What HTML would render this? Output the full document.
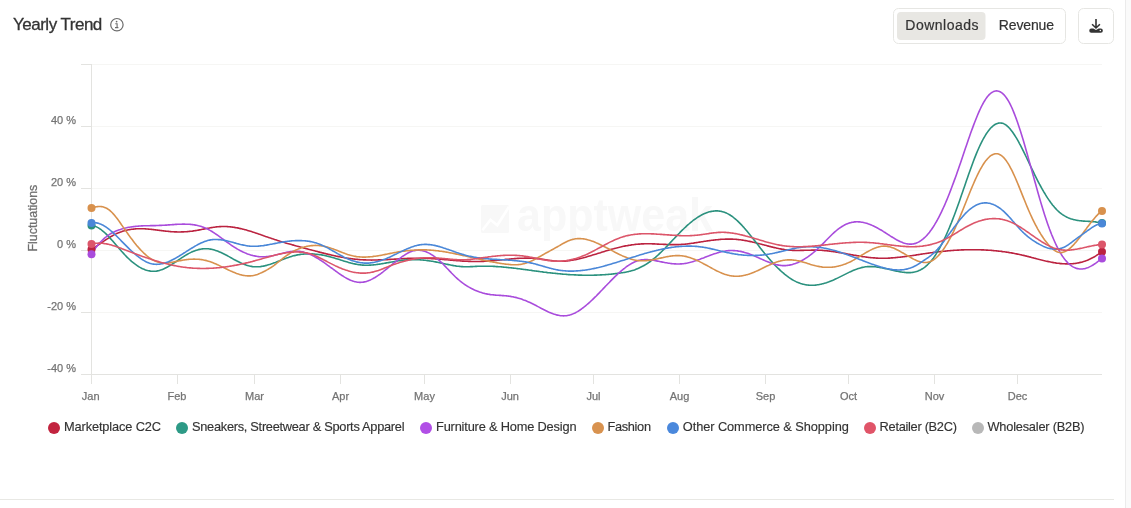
<!DOCTYPE html>
<html><head><meta charset="utf-8">
<style>
html,body{margin:0;padding:0;background:#fff;width:1131px;height:508px;overflow:hidden}
svg{position:absolute;left:0;top:0;display:block;will-change:transform}
text{font-family:"Liberation Sans",sans-serif}
</style></head><body>
<svg width="1131" height="508" viewBox="0 0 1131 508">
<!-- right strip -->
<rect x="1125" y="0" width="6" height="508" fill="#fafafa"/>
<rect x="1125" y="0" width="1" height="508" fill="#ebebeb"/>
<!-- bottom border -->
<rect x="0" y="499" width="1114" height="1" fill="#e8e8e4"/>
<!-- title -->
<text x="13" y="29.8" font-size="17" fill="#333" stroke="#333" stroke-width="0.3" letter-spacing="-0.5">Yearly Trend</text>
<circle cx="116.9" cy="24.7" r="6.2" fill="none" stroke="#6b6b6b" stroke-width="1.2"/>
<circle cx="116.6" cy="21.6" r="0.85" fill="#6b6b6b"/>
<path d="M115.3,23.8 H117.1 V27.5 M115,27.6 H118.4" fill="none" stroke="#6b6b6b" stroke-width="1.1"/>
<!-- toggle -->
<rect x="893.5" y="8.5" width="172" height="35" rx="5" fill="#fff" stroke="#e6e6e3"/>
<rect x="897" y="12" width="88.5" height="28" rx="4" fill="#e8e7e3"/>
<text x="905.3" y="29.7" font-size="14" fill="#333" stroke="#333" stroke-width="0.2" letter-spacing="0.5">Downloads</text>
<text x="998.8" y="29.7" font-size="14" fill="#333" stroke="#333" stroke-width="0.2" letter-spacing="-0.15">Revenue</text>
<!-- download btn -->
<rect x="1078.5" y="8.5" width="35" height="35" rx="5" fill="#fff" stroke="#e6e6e3"/>
<path d="M1096,19 V27.4 M1092.1,24.2 L1096,28 L1099.9,24.2" fill="none" stroke="#333" stroke-width="1.6"/>
<path d="M1091.3,28.6 H1093.3 L1096,30.1 L1098.7,28.6 H1100.8 A2.05,2.05 0 0 1 1100.8,32.7 H1091.3 A2.05,2.05 0 0 1 1091.3,28.6 Z" fill="#333"/>
<circle cx="1100.3" cy="30.6" r="0.75" fill="#fff"/>
<!-- grid -->
<g fill="none" stroke="#f6f6f4" stroke-width="1">
<path d="M91,64.5 H1102 M91,126.5 H1102 M91,188.5 H1102 M91,250.5 H1102 M91,312.5 H1102"/>
</g>
<g fill="none" stroke="#e3e3e0" stroke-width="1">
<path d="M81,64.5 H91 M81,126.5 H91 M81,188.5 H91 M81,250.5 H91 M81,312.5 H91 M81,374.5 H1102"/>
<path d="M91.5,64 V384"/>
<path d="M177.5,374 V384 M254.5,374 V384 M340.5,374 V384 M424.5,374 V384 M510.5,374 V384 M593.5,374 V384 M679.5,374 V384 M765.5,374 V384 M848.5,374 V384 M934.5,374 V384 M1017.5,374 V384"/>
</g>
<!-- watermark -->
<g fill="#f8f8f8">
<rect x="481" y="205" width="28" height="28" rx="1.5"/>
<text x="517" y="231" font-family="Liberation Serif" font-size="47" font-weight="bold" textLength="196" lengthAdjust="spacingAndGlyphs">apptweak</text>
</g>
<path d="M482.4,230.3 L490.5,219.8 L497.3,225.3 L509,206.8" fill="none" stroke="#fff" stroke-width="2.6"/>
<!-- y labels -->
<g font-size="11" fill="#747474" stroke="#747474" stroke-width="0.25" text-anchor="end">
<text x="76" y="123.6">40 %</text>
<text x="76" y="185.6">20 %</text>
<text x="76" y="247.6">0 %</text>
<text x="76" y="309.6">-20 %</text>
<text x="76" y="371.6">-40 %</text>
</g>
<text transform="translate(37.4,218.1) rotate(-90)" font-size="12.4" fill="#707070" stroke="#707070" stroke-width="0.3" text-anchor="middle">Fluctuations</text>
<!-- x labels -->
<g font-size="11" fill="#747474" stroke="#747474" stroke-width="0.25" text-anchor="middle">
<text x="90.7" y="399.8">Jan</text>
<text x="177" y="399.8">Feb</text>
<text x="254.5" y="399.8">Mar</text>
<text x="340.5" y="399.8">Apr</text>
<text x="424.5" y="399.8">May</text>
<text x="510" y="399.8">Jun</text>
<text x="593.5" y="399.8">Jul</text>
<text x="679.5" y="399.8">Aug</text>
<text x="765.5" y="399.8">Sep</text>
<text x="848.5" y="399.8">Oct</text>
<text x="934.5" y="399.8">Nov</text>
<text x="1017.5" y="399.8">Dec</text>
</g>
<!-- series -->
<g fill="none" stroke-width="1.6" stroke-linejoin="round" stroke-linecap="round">
<path d="M91.5,249.5 L92.5,248.9 L93.5,248.2 L94.5,247.6 L95.5,246.9 L96.5,246.2 L97.5,245.5 L98.5,244.9 L99.5,244.2 L100.5,243.5 L101.5,242.8 L102.5,242.1 L103.5,241.4 L104.5,240.7 L105.5,240.0 L106.5,239.4 L107.5,238.7 L108.5,238.1 L109.5,237.5 L110.5,236.8 L111.5,236.3 L112.5,235.7 L113.5,235.1 L114.5,234.6 L115.5,234.1 L116.5,233.6 L117.5,233.2 L118.5,232.8 L119.5,232.4 L120.5,232.0 L121.5,231.7 L122.5,231.3 L123.5,231.0 L124.5,230.7 L125.5,230.5 L126.5,230.2 L127.5,230.0 L128.5,229.8 L129.5,229.6 L130.5,229.5 L131.5,229.3 L132.5,229.2 L133.5,229.1 L134.5,229.0 L135.5,228.9 L136.5,228.8 L137.5,228.8 L138.5,228.8 L139.5,228.7 L140.5,228.7 L141.5,228.7 L142.5,228.8 L143.5,228.8 L144.5,228.8 L145.5,228.9 L146.5,229.0 L147.5,229.0 L148.5,229.1 L149.5,229.2 L150.5,229.3 L151.5,229.4 L152.5,229.5 L153.5,229.6 L154.5,229.8 L155.5,229.9 L156.5,230.0 L157.5,230.1 L158.5,230.3 L159.5,230.4 L160.5,230.5 L161.5,230.6 L162.5,230.8 L163.5,230.9 L164.5,231.0 L165.5,231.1 L166.5,231.2 L167.5,231.3 L168.5,231.4 L169.5,231.5 L170.5,231.6 L171.5,231.7 L172.5,231.8 L173.5,231.8 L174.5,231.9 L175.5,231.9 L176.5,231.9 L177.5,232.0 L178.5,232.0 L179.5,232.0 L180.5,232.0 L181.5,231.9 L182.5,231.9 L183.5,231.9 L184.5,231.8 L185.5,231.8 L186.5,231.7 L187.5,231.6 L188.5,231.5 L189.5,231.4 L190.5,231.3 L191.5,231.2 L192.5,231.1 L193.5,230.9 L194.5,230.8 L195.5,230.6 L196.5,230.5 L197.5,230.3 L198.5,230.1 L199.5,229.9 L200.5,229.7 L201.5,229.5 L202.5,229.3 L203.5,229.1 L204.5,228.9 L205.5,228.7 L206.5,228.5 L207.5,228.3 L208.5,228.2 L209.5,228.0 L210.5,227.8 L211.5,227.6 L212.5,227.5 L213.5,227.3 L214.5,227.2 L215.5,227.0 L216.5,226.9 L217.5,226.8 L218.5,226.7 L219.5,226.6 L220.5,226.6 L221.5,226.5 L222.5,226.5 L223.5,226.5 L224.5,226.5 L225.5,226.5 L226.5,226.5 L227.5,226.6 L228.5,226.7 L229.5,226.8 L230.5,226.9 L231.5,227.0 L232.5,227.1 L233.5,227.2 L234.5,227.4 L235.5,227.6 L236.5,227.7 L237.5,227.9 L238.5,228.1 L239.5,228.4 L240.5,228.6 L241.5,228.8 L242.5,229.1 L243.5,229.3 L244.5,229.6 L245.5,229.8 L246.5,230.1 L247.5,230.4 L248.5,230.7 L249.5,231.0 L250.5,231.3 L251.5,231.6 L252.5,231.9 L253.5,232.3 L254.5,232.6 L255.5,232.9 L256.5,233.2 L257.5,233.6 L258.5,233.9 L259.5,234.3 L260.5,234.6 L261.5,235.0 L262.5,235.3 L263.5,235.7 L264.5,236.0 L265.5,236.4 L266.5,236.7 L267.5,237.1 L268.5,237.4 L269.5,237.8 L270.5,238.1 L271.5,238.4 L272.5,238.8 L273.5,239.1 L274.5,239.5 L275.5,239.8 L276.5,240.1 L277.5,240.4 L278.5,240.7 L279.5,241.1 L280.5,241.4 L281.5,241.7 L282.5,242.0 L283.5,242.3 L284.5,242.6 L285.5,242.9 L286.5,243.2 L287.5,243.5 L288.5,243.7 L289.5,244.0 L290.5,244.3 L291.5,244.6 L292.5,244.9 L293.5,245.1 L294.5,245.4 L295.5,245.7 L296.5,246.0 L297.5,246.2 L298.5,246.5 L299.5,246.8 L300.5,247.1 L301.5,247.3 L302.5,247.6 L303.5,247.9 L304.5,248.1 L305.5,248.4 L306.5,248.7 L307.5,248.9 L308.5,249.2 L309.5,249.5 L310.5,249.7 L311.5,250.0 L312.5,250.3 L313.5,250.5 L314.5,250.8 L315.5,251.1 L316.5,251.3 L317.5,251.6 L318.5,251.9 L319.5,252.1 L320.5,252.4 L321.5,252.6 L322.5,252.9 L323.5,253.1 L324.5,253.4 L325.5,253.6 L326.5,253.9 L327.5,254.1 L328.5,254.4 L329.5,254.6 L330.5,254.8 L331.5,255.1 L332.5,255.3 L333.5,255.5 L334.5,255.7 L335.5,255.9 L336.5,256.2 L337.5,256.4 L338.5,256.6 L339.5,256.8 L340.5,257.0 L341.5,257.2 L342.5,257.3 L343.5,257.5 L344.5,257.7 L345.5,257.9 L346.5,258.0 L347.5,258.2 L348.5,258.3 L349.5,258.5 L350.5,258.6 L351.5,258.8 L352.5,258.9 L353.5,259.0 L354.5,259.1 L355.5,259.2 L356.5,259.3 L357.5,259.4 L358.5,259.5 L359.5,259.6 L360.5,259.7 L361.5,259.8 L362.5,259.8 L363.5,259.9 L364.5,259.9 L365.5,259.9 L366.5,260.0 L367.5,260.0 L368.5,260.0 L369.5,260.0 L370.5,260.0 L371.5,260.1 L372.5,260.0 L373.5,260.0 L374.5,260.0 L375.5,260.0 L376.5,260.0 L377.5,260.0 L378.5,259.9 L379.5,259.9 L380.5,259.9 L381.5,259.8 L382.5,259.8 L383.5,259.8 L384.5,259.7 L385.5,259.7 L386.5,259.6 L387.5,259.6 L388.5,259.5 L389.5,259.4 L390.5,259.4 L391.5,259.3 L392.5,259.3 L393.5,259.2 L394.5,259.1 L395.5,259.1 L396.5,259.0 L397.5,259.0 L398.5,258.9 L399.5,258.9 L400.5,258.8 L401.5,258.7 L402.5,258.7 L403.5,258.6 L404.5,258.6 L405.5,258.5 L406.5,258.5 L407.5,258.4 L408.5,258.4 L409.5,258.4 L410.5,258.3 L411.5,258.3 L412.5,258.3 L413.5,258.2 L414.5,258.2 L415.5,258.2 L416.5,258.2 L417.5,258.2 L418.5,258.2 L419.5,258.2 L420.5,258.2 L421.5,258.2 L422.5,258.2 L423.5,258.2 L424.5,258.3 L425.5,258.3 L426.5,258.3 L427.5,258.4 L428.5,258.4 L429.5,258.5 L430.5,258.5 L431.5,258.6 L432.5,258.6 L433.5,258.7 L434.5,258.8 L435.5,258.9 L436.5,258.9 L437.5,259.0 L438.5,259.1 L439.5,259.2 L440.5,259.2 L441.5,259.3 L442.5,259.4 L443.5,259.5 L444.5,259.6 L445.5,259.7 L446.5,259.8 L447.5,259.8 L448.5,259.9 L449.5,260.0 L450.5,260.1 L451.5,260.2 L452.5,260.3 L453.5,260.4 L454.5,260.5 L455.5,260.5 L456.5,260.6 L457.5,260.7 L458.5,260.8 L459.5,260.8 L460.5,260.9 L461.5,261.0 L462.5,261.1 L463.5,261.1 L464.5,261.2 L465.5,261.2 L466.5,261.3 L467.5,261.3 L468.5,261.4 L469.5,261.4 L470.5,261.4 L471.5,261.5 L472.5,261.5 L473.5,261.5 L474.5,261.5 L475.5,261.5 L476.5,261.5 L477.5,261.5 L478.5,261.5 L479.5,261.5 L480.5,261.5 L481.5,261.4 L482.5,261.4 L483.5,261.4 L484.5,261.3 L485.5,261.3 L486.5,261.2 L487.5,261.1 L488.5,261.1 L489.5,261.0 L490.5,260.9 L491.5,260.8 L492.5,260.7 L493.5,260.6 L494.5,260.5 L495.5,260.5 L496.5,260.4 L497.5,260.3 L498.5,260.2 L499.5,260.1 L500.5,260.0 L501.5,259.9 L502.5,259.8 L503.5,259.7 L504.5,259.6 L505.5,259.4 L506.5,259.4 L507.5,259.3 L508.5,259.2 L509.5,259.1 L510.5,259.0 L511.5,258.9 L512.5,258.8 L513.5,258.7 L514.5,258.6 L515.5,258.6 L516.5,258.5 L517.5,258.4 L518.5,258.4 L519.5,258.3 L520.5,258.3 L521.5,258.2 L522.5,258.2 L523.5,258.2 L524.5,258.1 L525.5,258.1 L526.5,258.1 L527.5,258.1 L528.5,258.1 L529.5,258.1 L530.5,258.2 L531.5,258.2 L532.5,258.2 L533.5,258.3 L534.5,258.3 L535.5,258.4 L536.5,258.5 L537.5,258.6 L538.5,258.7 L539.5,258.8 L540.5,259.0 L541.5,259.1 L542.5,259.2 L543.5,259.4 L544.5,259.5 L545.5,259.7 L546.5,259.9 L547.5,260.0 L548.5,260.2 L549.5,260.3 L550.5,260.5 L551.5,260.6 L552.5,260.7 L553.5,260.9 L554.5,261.0 L555.5,261.1 L556.5,261.1 L557.5,261.2 L558.5,261.2 L559.5,261.3 L560.5,261.3 L561.5,261.3 L562.5,261.2 L563.5,261.2 L564.5,261.1 L565.5,261.1 L566.5,261.0 L567.5,260.9 L568.5,260.7 L569.5,260.6 L570.5,260.5 L571.5,260.3 L572.5,260.2 L573.5,260.0 L574.5,259.8 L575.5,259.6 L576.5,259.4 L577.5,259.2 L578.5,259.0 L579.5,258.7 L580.5,258.5 L581.5,258.2 L582.5,258.0 L583.5,257.7 L584.5,257.5 L585.5,257.2 L586.5,256.9 L587.5,256.6 L588.5,256.3 L589.5,256.0 L590.5,255.7 L591.5,255.4 L592.5,255.1 L593.5,254.8 L594.5,254.5 L595.5,254.2 L596.5,253.9 L597.5,253.6 L598.5,253.3 L599.5,253.0 L600.5,252.7 L601.5,252.3 L602.5,252.0 L603.5,251.7 L604.5,251.4 L605.5,251.1 L606.5,250.8 L607.5,250.5 L608.5,250.2 L609.5,249.9 L610.5,249.6 L611.5,249.3 L612.5,249.0 L613.5,248.8 L614.5,248.5 L615.5,248.2 L616.5,248.0 L617.5,247.7 L618.5,247.5 L619.5,247.2 L620.5,247.0 L621.5,246.7 L622.5,246.5 L623.5,246.3 L624.5,246.1 L625.5,245.9 L626.5,245.7 L627.5,245.6 L628.5,245.4 L629.5,245.2 L630.5,245.1 L631.5,244.9 L632.5,244.8 L633.5,244.7 L634.5,244.5 L635.5,244.4 L636.5,244.3 L637.5,244.2 L638.5,244.1 L639.5,244.1 L640.5,244.0 L641.5,243.9 L642.5,243.9 L643.5,243.9 L644.5,243.8 L645.5,243.8 L646.5,243.8 L647.5,243.8 L648.5,243.8 L649.5,243.8 L650.5,243.8 L651.5,243.8 L652.5,243.9 L653.5,243.9 L654.5,243.9 L655.5,244.0 L656.5,244.0 L657.5,244.1 L658.5,244.1 L659.5,244.2 L660.5,244.2 L661.5,244.3 L662.5,244.3 L663.5,244.4 L664.5,244.4 L665.5,244.4 L666.5,244.5 L667.5,244.5 L668.5,244.6 L669.5,244.6 L670.5,244.6 L671.5,244.6 L672.5,244.6 L673.5,244.6 L674.5,244.6 L675.5,244.6 L676.5,244.6 L677.5,244.6 L678.5,244.6 L679.5,244.5 L680.5,244.5 L681.5,244.4 L682.5,244.3 L683.5,244.3 L684.5,244.2 L685.5,244.1 L686.5,244.0 L687.5,243.9 L688.5,243.7 L689.5,243.6 L690.5,243.5 L691.5,243.3 L692.5,243.2 L693.5,243.1 L694.5,242.9 L695.5,242.8 L696.5,242.6 L697.5,242.5 L698.5,242.3 L699.5,242.1 L700.5,242.0 L701.5,241.8 L702.5,241.7 L703.5,241.5 L704.5,241.3 L705.5,241.2 L706.5,241.0 L707.5,240.9 L708.5,240.8 L709.5,240.6 L710.5,240.5 L711.5,240.3 L712.5,240.2 L713.5,240.1 L714.5,240.0 L715.5,239.9 L716.5,239.8 L717.5,239.7 L718.5,239.6 L719.5,239.5 L720.5,239.4 L721.5,239.3 L722.5,239.3 L723.5,239.2 L724.5,239.2 L725.5,239.1 L726.5,239.1 L727.5,239.1 L728.5,239.1 L729.5,239.1 L730.5,239.1 L731.5,239.1 L732.5,239.1 L733.5,239.2 L734.5,239.2 L735.5,239.3 L736.5,239.4 L737.5,239.5 L738.5,239.6 L739.5,239.7 L740.5,239.8 L741.5,240.0 L742.5,240.1 L743.5,240.3 L744.5,240.5 L745.5,240.6 L746.5,240.8 L747.5,241.0 L748.5,241.2 L749.5,241.4 L750.5,241.6 L751.5,241.8 L752.5,242.1 L753.5,242.3 L754.5,242.5 L755.5,242.8 L756.5,243.0 L757.5,243.3 L758.5,243.5 L759.5,243.8 L760.5,244.0 L761.5,244.3 L762.5,244.6 L763.5,244.8 L764.5,245.1 L765.5,245.3 L766.5,245.6 L767.5,245.9 L768.5,246.1 L769.5,246.4 L770.5,246.6 L771.5,246.9 L772.5,247.1 L773.5,247.4 L774.5,247.6 L775.5,247.8 L776.5,248.1 L777.5,248.3 L778.5,248.5 L779.5,248.7 L780.5,248.9 L781.5,249.1 L782.5,249.3 L783.5,249.4 L784.5,249.6 L785.5,249.7 L786.5,249.9 L787.5,250.0 L788.5,250.1 L789.5,250.2 L790.5,250.2 L791.5,250.3 L792.5,250.4 L793.5,250.4 L794.5,250.4 L795.5,250.5 L796.5,250.5 L797.5,250.5 L798.5,250.5 L799.5,250.5 L800.5,250.4 L801.5,250.4 L802.5,250.4 L803.5,250.4 L804.5,250.3 L805.5,250.3 L806.5,250.3 L807.5,250.2 L808.5,250.2 L809.5,250.2 L810.5,250.2 L811.5,250.1 L812.5,250.1 L813.5,250.1 L814.5,250.1 L815.5,250.1 L816.5,250.1 L817.5,250.2 L818.5,250.2 L819.5,250.2 L820.5,250.3 L821.5,250.3 L822.5,250.4 L823.5,250.5 L824.5,250.6 L825.5,250.7 L826.5,250.8 L827.5,250.9 L828.5,251.0 L829.5,251.1 L830.5,251.2 L831.5,251.4 L832.5,251.5 L833.5,251.6 L834.5,251.8 L835.5,251.9 L836.5,252.1 L837.5,252.2 L838.5,252.4 L839.5,252.6 L840.5,252.7 L841.5,252.9 L842.5,253.1 L843.5,253.3 L844.5,253.4 L845.5,253.6 L846.5,253.8 L847.5,254.0 L848.5,254.2 L849.5,254.3 L850.5,254.5 L851.5,254.7 L852.5,254.9 L853.5,255.1 L854.5,255.2 L855.5,255.4 L856.5,255.6 L857.5,255.8 L858.5,255.9 L859.5,256.1 L860.5,256.2 L861.5,256.4 L862.5,256.6 L863.5,256.7 L864.5,256.8 L865.5,257.0 L866.5,257.1 L867.5,257.2 L868.5,257.4 L869.5,257.5 L870.5,257.6 L871.5,257.7 L872.5,257.8 L873.5,257.9 L874.5,257.9 L875.5,258.0 L876.5,258.1 L877.5,258.1 L878.5,258.2 L879.5,258.2 L880.5,258.2 L881.5,258.2 L882.5,258.2 L883.5,258.2 L884.5,258.2 L885.5,258.2 L886.5,258.2 L887.5,258.2 L888.5,258.1 L889.5,258.1 L890.5,258.0 L891.5,257.9 L892.5,257.9 L893.5,257.8 L894.5,257.7 L895.5,257.6 L896.5,257.5 L897.5,257.4 L898.5,257.3 L899.5,257.2 L900.5,257.1 L901.5,257.0 L902.5,256.9 L903.5,256.8 L904.5,256.6 L905.5,256.5 L906.5,256.4 L907.5,256.2 L908.5,256.1 L909.5,256.0 L910.5,255.8 L911.5,255.7 L912.5,255.5 L913.5,255.4 L914.5,255.2 L915.5,255.1 L916.5,254.9 L917.5,254.8 L918.5,254.6 L919.5,254.5 L920.5,254.3 L921.5,254.1 L922.5,254.0 L923.5,253.8 L924.5,253.7 L925.5,253.5 L926.5,253.4 L927.5,253.2 L928.5,253.1 L929.5,253.0 L930.5,252.8 L931.5,252.7 L932.5,252.6 L933.5,252.4 L934.5,252.3 L935.5,252.2 L936.5,252.0 L937.5,251.9 L938.5,251.8 L939.5,251.7 L940.5,251.6 L941.5,251.5 L942.5,251.4 L943.5,251.3 L944.5,251.2 L945.5,251.1 L946.5,251.0 L947.5,250.9 L948.5,250.8 L949.5,250.7 L950.5,250.6 L951.5,250.5 L952.5,250.5 L953.5,250.4 L954.5,250.3 L955.5,250.3 L956.5,250.2 L957.5,250.1 L958.5,250.1 L959.5,250.0 L960.5,250.0 L961.5,249.9 L962.5,249.9 L963.5,249.9 L964.5,249.8 L965.5,249.8 L966.5,249.8 L967.5,249.8 L968.5,249.7 L969.5,249.7 L970.5,249.7 L971.5,249.7 L972.5,249.7 L973.5,249.7 L974.5,249.7 L975.5,249.7 L976.5,249.7 L977.5,249.7 L978.5,249.8 L979.5,249.8 L980.5,249.8 L981.5,249.9 L982.5,249.9 L983.5,249.9 L984.5,250.0 L985.5,250.0 L986.5,250.1 L987.5,250.1 L988.5,250.2 L989.5,250.3 L990.5,250.3 L991.5,250.4 L992.5,250.5 L993.5,250.6 L994.5,250.7 L995.5,250.8 L996.5,250.9 L997.5,251.0 L998.5,251.1 L999.5,251.2 L1000.5,251.3 L1001.5,251.4 L1002.5,251.6 L1003.5,251.7 L1004.5,251.8 L1005.5,252.0 L1006.5,252.1 L1007.5,252.3 L1008.5,252.4 L1009.5,252.6 L1010.5,252.7 L1011.5,252.9 L1012.5,253.1 L1013.5,253.3 L1014.5,253.5 L1015.5,253.7 L1016.5,253.9 L1017.5,254.1 L1018.5,254.3 L1019.5,254.5 L1020.5,254.7 L1021.5,254.9 L1022.5,255.2 L1023.5,255.4 L1024.5,255.6 L1025.5,255.9 L1026.5,256.1 L1027.5,256.4 L1028.5,256.6 L1029.5,256.9 L1030.5,257.1 L1031.5,257.4 L1032.5,257.7 L1033.5,257.9 L1034.5,258.2 L1035.5,258.4 L1036.5,258.7 L1037.5,259.0 L1038.5,259.2 L1039.5,259.5 L1040.5,259.7 L1041.5,260.0 L1042.5,260.2 L1043.5,260.5 L1044.5,260.7 L1045.5,261.0 L1046.5,261.2 L1047.5,261.4 L1048.5,261.6 L1049.5,261.8 L1050.5,262.0 L1051.5,262.2 L1052.5,262.4 L1053.5,262.6 L1054.5,262.8 L1055.5,262.9 L1056.5,263.1 L1057.5,263.2 L1058.5,263.3 L1059.5,263.4 L1060.5,263.6 L1061.5,263.6 L1062.5,263.7 L1063.5,263.8 L1064.5,263.8 L1065.5,263.9 L1066.5,263.9 L1067.5,263.9 L1068.5,263.9 L1069.5,263.9 L1070.5,263.8 L1071.5,263.8 L1072.5,263.7 L1073.5,263.6 L1074.5,263.5 L1075.5,263.4 L1076.5,263.2 L1077.5,263.0 L1078.5,262.9 L1079.5,262.6 L1080.5,262.4 L1081.5,262.2 L1082.5,261.9 L1083.5,261.6 L1084.5,261.3 L1085.5,260.9 L1086.5,260.6 L1087.5,260.2 L1088.5,259.7 L1089.5,259.3 L1090.5,258.8 L1091.5,258.3 L1092.5,257.8 L1093.5,257.3 L1094.5,256.7 L1095.5,256.1 L1096.5,255.4 L1097.5,254.8 L1098.5,254.1 L1099.5,253.4 L1100.5,252.6 L1101.5,251.8" stroke="#bb2340"/>
<path d="M91.5,225.5 L92.5,225.6 L93.5,225.8 L94.5,226.1 L95.5,226.4 L96.5,226.9 L97.5,227.4 L98.5,227.9 L99.5,228.6 L100.5,229.2 L101.5,230.0 L102.5,230.8 L103.5,231.6 L104.5,232.5 L105.5,233.4 L106.5,234.4 L107.5,235.4 L108.5,236.4 L109.5,237.5 L110.5,238.6 L111.5,239.7 L112.5,240.8 L113.5,241.9 L114.5,243.1 L115.5,244.2 L116.5,245.4 L117.5,246.6 L118.5,247.7 L119.5,248.9 L120.5,250.0 L121.5,251.2 L122.5,252.3 L123.5,253.4 L124.5,254.5 L125.5,255.5 L126.5,256.6 L127.5,257.6 L128.5,258.5 L129.5,259.5 L130.5,260.4 L131.5,261.3 L132.5,262.1 L133.5,262.9 L134.5,263.7 L135.5,264.4 L136.5,265.1 L137.5,265.8 L138.5,266.5 L139.5,267.1 L140.5,267.6 L141.5,268.2 L142.5,268.7 L143.5,269.1 L144.5,269.5 L145.5,269.9 L146.5,270.2 L147.5,270.5 L148.5,270.7 L149.5,270.9 L150.5,271.1 L151.5,271.2 L152.5,271.3 L153.5,271.3 L154.5,271.3 L155.5,271.2 L156.5,271.1 L157.5,270.9 L158.5,270.7 L159.5,270.4 L160.5,270.1 L161.5,269.8 L162.5,269.4 L163.5,269.0 L164.5,268.5 L165.5,268.0 L166.5,267.5 L167.5,267.0 L168.5,266.4 L169.5,265.8 L170.5,265.2 L171.5,264.6 L172.5,263.9 L173.5,263.3 L174.5,262.6 L175.5,262.0 L176.5,261.3 L177.5,260.6 L178.5,259.9 L179.5,259.3 L180.5,258.6 L181.5,257.9 L182.5,257.3 L183.5,256.6 L184.5,256.0 L185.5,255.4 L186.5,254.8 L187.5,254.2 L188.5,253.6 L189.5,253.1 L190.5,252.6 L191.5,252.1 L192.5,251.7 L193.5,251.3 L194.5,250.9 L195.5,250.5 L196.5,250.2 L197.5,249.9 L198.5,249.6 L199.5,249.4 L200.5,249.2 L201.5,249.0 L202.5,248.9 L203.5,248.8 L204.5,248.7 L205.5,248.7 L206.5,248.7 L207.5,248.7 L208.5,248.8 L209.5,249.0 L210.5,249.1 L211.5,249.3 L212.5,249.5 L213.5,249.8 L214.5,250.1 L215.5,250.4 L216.5,250.7 L217.5,251.1 L218.5,251.5 L219.5,251.9 L220.5,252.3 L221.5,252.8 L222.5,253.3 L223.5,253.8 L224.5,254.3 L225.5,254.8 L226.5,255.3 L227.5,255.8 L228.5,256.4 L229.5,256.9 L230.5,257.5 L231.5,258.0 L232.5,258.6 L233.5,259.2 L234.5,259.7 L235.5,260.2 L236.5,260.8 L237.5,261.3 L238.5,261.8 L239.5,262.3 L240.5,262.8 L241.5,263.2 L242.5,263.7 L243.5,264.1 L244.5,264.5 L245.5,264.8 L246.5,265.2 L247.5,265.5 L248.5,265.8 L249.5,266.0 L250.5,266.2 L251.5,266.4 L252.5,266.6 L253.5,266.7 L254.5,266.8 L255.5,266.8 L256.5,266.8 L257.5,266.8 L258.5,266.8 L259.5,266.7 L260.5,266.6 L261.5,266.4 L262.5,266.3 L263.5,266.1 L264.5,265.9 L265.5,265.6 L266.5,265.4 L267.5,265.1 L268.5,264.8 L269.5,264.5 L270.5,264.2 L271.5,263.8 L272.5,263.5 L273.5,263.1 L274.5,262.7 L275.5,262.4 L276.5,262.0 L277.5,261.6 L278.5,261.2 L279.5,260.8 L280.5,260.4 L281.5,260.0 L282.5,259.6 L283.5,259.2 L284.5,258.8 L285.5,258.4 L286.5,258.1 L287.5,257.7 L288.5,257.4 L289.5,257.0 L290.5,256.7 L291.5,256.4 L292.5,256.1 L293.5,255.8 L294.5,255.6 L295.5,255.4 L296.5,255.1 L297.5,254.9 L298.5,254.8 L299.5,254.6 L300.5,254.4 L301.5,254.3 L302.5,254.2 L303.5,254.1 L304.5,254.0 L305.5,254.0 L306.5,253.9 L307.5,253.9 L308.5,253.9 L309.5,253.9 L310.5,253.9 L311.5,253.9 L312.5,253.9 L313.5,254.0 L314.5,254.1 L315.5,254.2 L316.5,254.2 L317.5,254.4 L318.5,254.5 L319.5,254.6 L320.5,254.8 L321.5,254.9 L322.5,255.1 L323.5,255.3 L324.5,255.5 L325.5,255.7 L326.5,255.9 L327.5,256.2 L328.5,256.4 L329.5,256.7 L330.5,256.9 L331.5,257.2 L332.5,257.5 L333.5,257.8 L334.5,258.1 L335.5,258.4 L336.5,258.7 L337.5,259.0 L338.5,259.3 L339.5,259.6 L340.5,259.9 L341.5,260.3 L342.5,260.6 L343.5,260.9 L344.5,261.2 L345.5,261.5 L346.5,261.8 L347.5,262.1 L348.5,262.4 L349.5,262.7 L350.5,262.9 L351.5,263.2 L352.5,263.4 L353.5,263.7 L354.5,263.9 L355.5,264.1 L356.5,264.3 L357.5,264.5 L358.5,264.6 L359.5,264.8 L360.5,264.9 L361.5,265.0 L362.5,265.1 L363.5,265.1 L364.5,265.2 L365.5,265.2 L366.5,265.2 L367.5,265.2 L368.5,265.2 L369.5,265.1 L370.5,265.1 L371.5,265.0 L372.5,265.0 L373.5,264.9 L374.5,264.8 L375.5,264.7 L376.5,264.5 L377.5,264.4 L378.5,264.3 L379.5,264.1 L380.5,264.0 L381.5,263.8 L382.5,263.6 L383.5,263.5 L384.5,263.3 L385.5,263.1 L386.5,262.9 L387.5,262.8 L388.5,262.6 L389.5,262.4 L390.5,262.2 L391.5,262.0 L392.5,261.9 L393.5,261.7 L394.5,261.5 L395.5,261.3 L396.5,261.2 L397.5,261.0 L398.5,260.8 L399.5,260.7 L400.5,260.6 L401.5,260.4 L402.5,260.3 L403.5,260.2 L404.5,260.1 L405.5,260.0 L406.5,259.9 L407.5,259.8 L408.5,259.8 L409.5,259.7 L410.5,259.7 L411.5,259.7 L412.5,259.7 L413.5,259.7 L414.5,259.7 L415.5,259.7 L416.5,259.7 L417.5,259.7 L418.5,259.8 L419.5,259.8 L420.5,259.9 L421.5,260.0 L422.5,260.0 L423.5,260.1 L424.5,260.2 L425.5,260.3 L426.5,260.5 L427.5,260.6 L428.5,260.7 L429.5,260.9 L430.5,261.0 L431.5,261.2 L432.5,261.3 L433.5,261.5 L434.5,261.7 L435.5,261.9 L436.5,262.1 L437.5,262.3 L438.5,262.5 L439.5,262.7 L440.5,262.9 L441.5,263.1 L442.5,263.3 L443.5,263.6 L444.5,263.8 L445.5,264.0 L446.5,264.2 L447.5,264.4 L448.5,264.6 L449.5,264.8 L450.5,265.0 L451.5,265.2 L452.5,265.4 L453.5,265.6 L454.5,265.8 L455.5,265.9 L456.5,266.1 L457.5,266.2 L458.5,266.3 L459.5,266.4 L460.5,266.5 L461.5,266.6 L462.5,266.6 L463.5,266.7 L464.5,266.7 L465.5,266.7 L466.5,266.7 L467.5,266.7 L468.5,266.7 L469.5,266.7 L470.5,266.6 L471.5,266.6 L472.5,266.6 L473.5,266.5 L474.5,266.5 L475.5,266.4 L476.5,266.4 L477.5,266.3 L478.5,266.3 L479.5,266.3 L480.5,266.2 L481.5,266.2 L482.5,266.2 L483.5,266.2 L484.5,266.2 L485.5,266.2 L486.5,266.2 L487.5,266.2 L488.5,266.2 L489.5,266.2 L490.5,266.3 L491.5,266.3 L492.5,266.3 L493.5,266.4 L494.5,266.4 L495.5,266.5 L496.5,266.6 L497.5,266.6 L498.5,266.7 L499.5,266.8 L500.5,266.8 L501.5,266.9 L502.5,267.0 L503.5,267.1 L504.5,267.2 L505.5,267.3 L506.5,267.4 L507.5,267.5 L508.5,267.6 L509.5,267.7 L510.5,267.8 L511.5,267.9 L512.5,268.0 L513.5,268.1 L514.5,268.2 L515.5,268.3 L516.5,268.5 L517.5,268.6 L518.5,268.7 L519.5,268.8 L520.5,269.0 L521.5,269.1 L522.5,269.2 L523.5,269.4 L524.5,269.5 L525.5,269.6 L526.5,269.8 L527.5,269.9 L528.5,270.0 L529.5,270.2 L530.5,270.3 L531.5,270.4 L532.5,270.6 L533.5,270.7 L534.5,270.9 L535.5,271.0 L536.5,271.1 L537.5,271.3 L538.5,271.4 L539.5,271.5 L540.5,271.7 L541.5,271.8 L542.5,271.9 L543.5,272.1 L544.5,272.2 L545.5,272.3 L546.5,272.4 L547.5,272.6 L548.5,272.7 L549.5,272.8 L550.5,272.9 L551.5,273.0 L552.5,273.1 L553.5,273.2 L554.5,273.3 L555.5,273.4 L556.5,273.5 L557.5,273.6 L558.5,273.7 L559.5,273.8 L560.5,273.9 L561.5,274.0 L562.5,274.1 L563.5,274.2 L564.5,274.3 L565.5,274.3 L566.5,274.4 L567.5,274.5 L568.5,274.6 L569.5,274.6 L570.5,274.7 L571.5,274.7 L572.5,274.8 L573.5,274.8 L574.5,274.9 L575.5,274.9 L576.5,275.0 L577.5,275.0 L578.5,275.1 L579.5,275.1 L580.5,275.1 L581.5,275.1 L582.5,275.2 L583.5,275.2 L584.5,275.2 L585.5,275.2 L586.5,275.2 L587.5,275.2 L588.5,275.2 L589.5,275.2 L590.5,275.2 L591.5,275.2 L592.5,275.2 L593.5,275.2 L594.5,275.1 L595.5,275.1 L596.5,275.1 L597.5,275.0 L598.5,275.0 L599.5,275.0 L600.5,274.9 L601.5,274.9 L602.5,274.8 L603.5,274.7 L604.5,274.7 L605.5,274.6 L606.5,274.5 L607.5,274.5 L608.5,274.4 L609.5,274.3 L610.5,274.2 L611.5,274.1 L612.5,274.0 L613.5,273.9 L614.5,273.8 L615.5,273.6 L616.5,273.5 L617.5,273.4 L618.5,273.3 L619.5,273.1 L620.5,273.0 L621.5,272.8 L622.5,272.7 L623.5,272.5 L624.5,272.4 L625.5,272.2 L626.5,272.0 L627.5,271.8 L628.5,271.6 L629.5,271.3 L630.5,271.1 L631.5,270.8 L632.5,270.5 L633.5,270.2 L634.5,269.9 L635.5,269.5 L636.5,269.1 L637.5,268.7 L638.5,268.3 L639.5,267.8 L640.5,267.3 L641.5,266.8 L642.5,266.3 L643.5,265.8 L644.5,265.2 L645.5,264.6 L646.5,264.0 L647.5,263.3 L648.5,262.7 L649.5,262.0 L650.5,261.3 L651.5,260.5 L652.5,259.7 L653.5,258.9 L654.5,258.1 L655.5,257.3 L656.5,256.4 L657.5,255.5 L658.5,254.6 L659.5,253.6 L660.5,252.7 L661.5,251.7 L662.5,250.7 L663.5,249.7 L664.5,248.7 L665.5,247.7 L666.5,246.6 L667.5,245.6 L668.5,244.5 L669.5,243.5 L670.5,242.4 L671.5,241.4 L672.5,240.3 L673.5,239.2 L674.5,238.2 L675.5,237.1 L676.5,236.1 L677.5,235.0 L678.5,234.0 L679.5,233.0 L680.5,231.9 L681.5,230.9 L682.5,229.9 L683.5,229.0 L684.5,228.0 L685.5,227.1 L686.5,226.1 L687.5,225.2 L688.5,224.3 L689.5,223.5 L690.5,222.6 L691.5,221.8 L692.5,221.0 L693.5,220.2 L694.5,219.5 L695.5,218.8 L696.5,218.1 L697.5,217.4 L698.5,216.8 L699.5,216.2 L700.5,215.6 L701.5,215.0 L702.5,214.5 L703.5,214.0 L704.5,213.6 L705.5,213.2 L706.5,212.8 L707.5,212.4 L708.5,212.1 L709.5,211.8 L710.5,211.6 L711.5,211.4 L712.5,211.2 L713.5,211.1 L714.5,211.0 L715.5,210.9 L716.5,210.9 L717.5,210.9 L718.5,211.0 L719.5,211.1 L720.5,211.2 L721.5,211.4 L722.5,211.7 L723.5,212.0 L724.5,212.3 L725.5,212.7 L726.5,213.1 L727.5,213.6 L728.5,214.1 L729.5,214.7 L730.5,215.3 L731.5,216.0 L732.5,216.7 L733.5,217.5 L734.5,218.3 L735.5,219.1 L736.5,220.0 L737.5,220.9 L738.5,221.9 L739.5,222.9 L740.5,223.9 L741.5,224.9 L742.5,226.0 L743.5,227.1 L744.5,228.3 L745.5,229.4 L746.5,230.6 L747.5,231.8 L748.5,233.0 L749.5,234.2 L750.5,235.4 L751.5,236.7 L752.5,238.0 L753.5,239.2 L754.5,240.5 L755.5,241.8 L756.5,243.1 L757.5,244.3 L758.5,245.6 L759.5,246.9 L760.5,248.2 L761.5,249.4 L762.5,250.7 L763.5,251.9 L764.5,253.2 L765.5,254.4 L766.5,255.6 L767.5,256.8 L768.5,257.9 L769.5,259.1 L770.5,260.2 L771.5,261.4 L772.5,262.5 L773.5,263.6 L774.5,264.6 L775.5,265.7 L776.5,266.7 L777.5,267.7 L778.5,268.7 L779.5,269.6 L780.5,270.6 L781.5,271.5 L782.5,272.4 L783.5,273.2 L784.5,274.1 L785.5,274.9 L786.5,275.7 L787.5,276.4 L788.5,277.2 L789.5,277.9 L790.5,278.5 L791.5,279.2 L792.5,279.8 L793.5,280.4 L794.5,280.9 L795.5,281.4 L796.5,281.9 L797.5,282.3 L798.5,282.7 L799.5,283.1 L800.5,283.5 L801.5,283.8 L802.5,284.1 L803.5,284.3 L804.5,284.5 L805.5,284.7 L806.5,284.9 L807.5,285.0 L808.5,285.1 L809.5,285.2 L810.5,285.2 L811.5,285.2 L812.5,285.2 L813.5,285.2 L814.5,285.2 L815.5,285.1 L816.5,285.0 L817.5,284.8 L818.5,284.7 L819.5,284.5 L820.5,284.3 L821.5,284.1 L822.5,283.8 L823.5,283.6 L824.5,283.3 L825.5,283.0 L826.5,282.7 L827.5,282.3 L828.5,282.0 L829.5,281.6 L830.5,281.2 L831.5,280.8 L832.5,280.4 L833.5,280.0 L834.5,279.5 L835.5,279.0 L836.5,278.6 L837.5,278.1 L838.5,277.6 L839.5,277.1 L840.5,276.6 L841.5,276.1 L842.5,275.6 L843.5,275.1 L844.5,274.6 L845.5,274.1 L846.5,273.6 L847.5,273.1 L848.5,272.6 L849.5,272.1 L850.5,271.7 L851.5,271.2 L852.5,270.8 L853.5,270.3 L854.5,269.9 L855.5,269.5 L856.5,269.2 L857.5,268.8 L858.5,268.5 L859.5,268.2 L860.5,267.9 L861.5,267.6 L862.5,267.4 L863.5,267.2 L864.5,267.0 L865.5,266.8 L866.5,266.7 L867.5,266.6 L868.5,266.6 L869.5,266.6 L870.5,266.5 L871.5,266.6 L872.5,266.6 L873.5,266.7 L874.5,266.7 L875.5,266.8 L876.5,267.0 L877.5,267.1 L878.5,267.2 L879.5,267.4 L880.5,267.6 L881.5,267.8 L882.5,267.9 L883.5,268.2 L884.5,268.4 L885.5,268.6 L886.5,268.8 L887.5,269.0 L888.5,269.3 L889.5,269.5 L890.5,269.7 L891.5,270.0 L892.5,270.2 L893.5,270.4 L894.5,270.7 L895.5,270.9 L896.5,271.1 L897.5,271.3 L898.5,271.5 L899.5,271.7 L900.5,271.9 L901.5,272.0 L902.5,272.2 L903.5,272.3 L904.5,272.4 L905.5,272.5 L906.5,272.6 L907.5,272.6 L908.5,272.6 L909.5,272.6 L910.5,272.6 L911.5,272.5 L912.5,272.4 L913.5,272.2 L914.5,272.0 L915.5,271.8 L916.5,271.5 L917.5,271.2 L918.5,270.8 L919.5,270.3 L920.5,269.9 L921.5,269.3 L922.5,268.7 L923.5,268.1 L924.5,267.4 L925.5,266.6 L926.5,265.7 L927.5,264.8 L928.5,263.8 L929.5,262.8 L930.5,261.7 L931.5,260.5 L932.5,259.2 L933.5,257.9 L934.5,256.5 L935.5,255.0 L936.5,253.4 L937.5,251.8 L938.5,250.1 L939.5,248.4 L940.5,246.5 L941.5,244.6 L942.5,242.7 L943.5,240.7 L944.5,238.6 L945.5,236.5 L946.5,234.3 L947.5,232.0 L948.5,229.7 L949.5,227.4 L950.5,224.9 L951.5,222.5 L952.5,219.9 L953.5,217.3 L954.5,214.7 L955.5,212.0 L956.5,209.3 L957.5,206.5 L958.5,203.7 L959.5,200.9 L960.5,198.0 L961.5,195.1 L962.5,192.2 L963.5,189.3 L964.5,186.4 L965.5,183.5 L966.5,180.6 L967.5,177.7 L968.5,174.8 L969.5,172.0 L970.5,169.2 L971.5,166.4 L972.5,163.7 L973.5,161.0 L974.5,158.4 L975.5,155.9 L976.5,153.4 L977.5,151.0 L978.5,148.7 L979.5,146.5 L980.5,144.3 L981.5,142.3 L982.5,140.4 L983.5,138.5 L984.5,136.8 L985.5,135.1 L986.5,133.5 L987.5,132.1 L988.5,130.7 L989.5,129.5 L990.5,128.3 L991.5,127.3 L992.5,126.4 L993.5,125.5 L994.5,124.8 L995.5,124.2 L996.5,123.7 L997.5,123.4 L998.5,123.1 L999.5,123.0 L1000.5,123.0 L1001.5,123.1 L1002.5,123.3 L1003.5,123.6 L1004.5,124.1 L1005.5,124.7 L1006.5,125.4 L1007.5,126.3 L1008.5,127.2 L1009.5,128.3 L1010.5,129.4 L1011.5,130.7 L1012.5,132.0 L1013.5,133.5 L1014.5,135.0 L1015.5,136.6 L1016.5,138.2 L1017.5,139.9 L1018.5,141.7 L1019.5,143.6 L1020.5,145.4 L1021.5,147.4 L1022.5,149.3 L1023.5,151.4 L1024.5,153.4 L1025.5,155.5 L1026.5,157.5 L1027.5,159.6 L1028.5,161.7 L1029.5,163.9 L1030.5,166.0 L1031.5,168.1 L1032.5,170.2 L1033.5,172.2 L1034.5,174.3 L1035.5,176.3 L1036.5,178.3 L1037.5,180.3 L1038.5,182.3 L1039.5,184.2 L1040.5,186.0 L1041.5,187.8 L1042.5,189.6 L1043.5,191.4 L1044.5,193.0 L1045.5,194.7 L1046.5,196.3 L1047.5,197.9 L1048.5,199.4 L1049.5,200.8 L1050.5,202.2 L1051.5,203.6 L1052.5,204.9 L1053.5,206.1 L1054.5,207.3 L1055.5,208.4 L1056.5,209.5 L1057.5,210.5 L1058.5,211.4 L1059.5,212.3 L1060.5,213.1 L1061.5,213.9 L1062.5,214.6 L1063.5,215.2 L1064.5,215.9 L1065.5,216.4 L1066.5,217.0 L1067.5,217.4 L1068.5,217.9 L1069.5,218.3 L1070.5,218.7 L1071.5,219.0 L1072.5,219.3 L1073.5,219.6 L1074.5,219.8 L1075.5,220.0 L1076.5,220.2 L1077.5,220.4 L1078.5,220.5 L1079.5,220.7 L1080.5,220.8 L1081.5,220.9 L1082.5,221.0 L1083.5,221.1 L1084.5,221.1 L1085.5,221.2 L1086.5,221.3 L1087.5,221.3 L1088.5,221.4 L1089.5,221.4 L1090.5,221.5 L1091.5,221.6 L1092.5,221.6 L1093.5,221.7 L1094.5,221.8 L1095.5,221.9 L1096.5,222.1 L1097.5,222.2 L1098.5,222.4 L1099.5,222.5 L1100.5,222.8 L1101.5,223.0" stroke="#2b917e"/>
<path d="M91.5,254.2 L92.5,252.6 L93.5,251.0 L94.5,249.6 L95.5,248.1 L96.5,246.8 L97.5,245.5 L98.5,244.3 L99.5,243.1 L100.5,242.0 L101.5,241.0 L102.5,240.0 L103.5,239.1 L104.5,238.2 L105.5,237.3 L106.5,236.6 L107.5,235.8 L108.5,235.1 L109.5,234.4 L110.5,233.8 L111.5,233.2 L112.5,232.7 L113.5,232.2 L114.5,231.7 L115.5,231.2 L116.5,230.8 L117.5,230.4 L118.5,230.0 L119.5,229.7 L120.5,229.4 L121.5,229.0 L122.5,228.8 L123.5,228.5 L124.5,228.2 L125.5,228.0 L126.5,227.8 L127.5,227.5 L128.5,227.3 L129.5,227.2 L130.5,227.0 L131.5,226.9 L132.5,226.7 L133.5,226.6 L134.5,226.5 L135.5,226.4 L136.5,226.3 L137.5,226.2 L138.5,226.1 L139.5,226.0 L140.5,226.0 L141.5,225.9 L142.5,225.9 L143.5,225.8 L144.5,225.8 L145.5,225.8 L146.5,225.7 L147.5,225.7 L148.5,225.7 L149.5,225.7 L150.5,225.6 L151.5,225.6 L152.5,225.6 L153.5,225.6 L154.5,225.6 L155.5,225.6 L156.5,225.5 L157.5,225.5 L158.5,225.5 L159.5,225.4 L160.5,225.4 L161.5,225.4 L162.5,225.3 L163.5,225.3 L164.5,225.2 L165.5,225.1 L166.5,225.1 L167.5,225.0 L168.5,224.9 L169.5,224.9 L170.5,224.8 L171.5,224.7 L172.5,224.6 L173.5,224.6 L174.5,224.5 L175.5,224.4 L176.5,224.4 L177.5,224.3 L178.5,224.3 L179.5,224.2 L180.5,224.2 L181.5,224.2 L182.5,224.1 L183.5,224.1 L184.5,224.1 L185.5,224.2 L186.5,224.2 L187.5,224.2 L188.5,224.3 L189.5,224.3 L190.5,224.4 L191.5,224.5 L192.5,224.6 L193.5,224.8 L194.5,224.9 L195.5,225.1 L196.5,225.3 L197.5,225.5 L198.5,225.8 L199.5,226.0 L200.5,226.3 L201.5,226.6 L202.5,226.9 L203.5,227.3 L204.5,227.7 L205.5,228.1 L206.5,228.6 L207.5,229.0 L208.5,229.5 L209.5,230.1 L210.5,230.6 L211.5,231.2 L212.5,231.8 L213.5,232.5 L214.5,233.1 L215.5,233.8 L216.5,234.5 L217.5,235.2 L218.5,235.9 L219.5,236.6 L220.5,237.3 L221.5,238.1 L222.5,238.8 L223.5,239.5 L224.5,240.3 L225.5,241.0 L226.5,241.8 L227.5,242.5 L228.5,243.2 L229.5,243.9 L230.5,244.6 L231.5,245.3 L232.5,246.0 L233.5,246.6 L234.5,247.3 L235.5,247.9 L236.5,248.5 L237.5,249.1 L238.5,249.6 L239.5,250.2 L240.5,250.7 L241.5,251.2 L242.5,251.7 L243.5,252.2 L244.5,252.6 L245.5,253.1 L246.5,253.5 L247.5,253.9 L248.5,254.2 L249.5,254.6 L250.5,254.9 L251.5,255.2 L252.5,255.4 L253.5,255.7 L254.5,255.9 L255.5,256.1 L256.5,256.3 L257.5,256.5 L258.5,256.6 L259.5,256.7 L260.5,256.8 L261.5,256.8 L262.5,256.8 L263.5,256.8 L264.5,256.8 L265.5,256.7 L266.5,256.6 L267.5,256.5 L268.5,256.4 L269.5,256.2 L270.5,256.1 L271.5,255.9 L272.5,255.7 L273.5,255.5 L274.5,255.2 L275.5,255.0 L276.5,254.8 L277.5,254.5 L278.5,254.3 L279.5,254.0 L280.5,253.7 L281.5,253.5 L282.5,253.3 L283.5,253.0 L284.5,252.8 L285.5,252.6 L286.5,252.3 L287.5,252.1 L288.5,252.0 L289.5,251.8 L290.5,251.6 L291.5,251.5 L292.5,251.4 L293.5,251.3 L294.5,251.2 L295.5,251.2 L296.5,251.2 L297.5,251.2 L298.5,251.3 L299.5,251.4 L300.5,251.5 L301.5,251.7 L302.5,251.9 L303.5,252.1 L304.5,252.4 L305.5,252.7 L306.5,253.0 L307.5,253.4 L308.5,253.8 L309.5,254.2 L310.5,254.6 L311.5,255.1 L312.5,255.6 L313.5,256.1 L314.5,256.6 L315.5,257.2 L316.5,257.7 L317.5,258.3 L318.5,258.9 L319.5,259.6 L320.5,260.2 L321.5,260.9 L322.5,261.5 L323.5,262.2 L324.5,262.9 L325.5,263.6 L326.5,264.3 L327.5,265.1 L328.5,265.8 L329.5,266.5 L330.5,267.3 L331.5,268.0 L332.5,268.7 L333.5,269.5 L334.5,270.2 L335.5,271.0 L336.5,271.7 L337.5,272.4 L338.5,273.1 L339.5,273.8 L340.5,274.5 L341.5,275.2 L342.5,275.8 L343.5,276.4 L344.5,277.1 L345.5,277.6 L346.5,278.2 L347.5,278.7 L348.5,279.2 L349.5,279.7 L350.5,280.2 L351.5,280.6 L352.5,280.9 L353.5,281.3 L354.5,281.6 L355.5,281.8 L356.5,282.0 L357.5,282.2 L358.5,282.3 L359.5,282.4 L360.5,282.4 L361.5,282.3 L362.5,282.3 L363.5,282.1 L364.5,281.9 L365.5,281.7 L366.5,281.4 L367.5,281.1 L368.5,280.7 L369.5,280.3 L370.5,279.9 L371.5,279.4 L372.5,278.9 L373.5,278.3 L374.5,277.8 L375.5,277.2 L376.5,276.5 L377.5,275.9 L378.5,275.2 L379.5,274.5 L380.5,273.8 L381.5,273.0 L382.5,272.3 L383.5,271.5 L384.5,270.7 L385.5,269.9 L386.5,269.1 L387.5,268.3 L388.5,267.5 L389.5,266.7 L390.5,265.9 L391.5,265.0 L392.5,264.2 L393.5,263.4 L394.5,262.6 L395.5,261.8 L396.5,261.0 L397.5,260.2 L398.5,259.4 L399.5,258.6 L400.5,257.9 L401.5,257.2 L402.5,256.4 L403.5,255.8 L404.5,255.1 L405.5,254.5 L406.5,253.9 L407.5,253.3 L408.5,252.8 L409.5,252.3 L410.5,251.8 L411.5,251.4 L412.5,251.1 L413.5,250.8 L414.5,250.6 L415.5,250.4 L416.5,250.3 L417.5,250.2 L418.5,250.2 L419.5,250.3 L420.5,250.4 L421.5,250.5 L422.5,250.7 L423.5,251.0 L424.5,251.3 L425.5,251.6 L426.5,252.0 L427.5,252.4 L428.5,252.9 L429.5,253.4 L430.5,254.0 L431.5,254.6 L432.5,255.2 L433.5,255.9 L434.5,256.6 L435.5,257.4 L436.5,258.1 L437.5,259.0 L438.5,259.8 L439.5,260.7 L440.5,261.6 L441.5,262.6 L442.5,263.5 L443.5,264.5 L444.5,265.6 L445.5,266.6 L446.5,267.7 L447.5,268.7 L448.5,269.8 L449.5,270.9 L450.5,271.9 L451.5,273.0 L452.5,274.0 L453.5,275.0 L454.5,276.0 L455.5,277.0 L456.5,277.9 L457.5,278.8 L458.5,279.7 L459.5,280.5 L460.5,281.3 L461.5,282.1 L462.5,282.9 L463.5,283.6 L464.5,284.3 L465.5,285.0 L466.5,285.6 L467.5,286.3 L468.5,286.9 L469.5,287.4 L470.5,288.0 L471.5,288.5 L472.5,289.0 L473.5,289.5 L474.5,290.0 L475.5,290.4 L476.5,290.8 L477.5,291.2 L478.5,291.6 L479.5,292.0 L480.5,292.3 L481.5,292.6 L482.5,292.9 L483.5,293.2 L484.5,293.4 L485.5,293.7 L486.5,293.9 L487.5,294.1 L488.5,294.3 L489.5,294.4 L490.5,294.6 L491.5,294.7 L492.5,294.8 L493.5,294.9 L494.5,295.0 L495.5,295.1 L496.5,295.2 L497.5,295.2 L498.5,295.3 L499.5,295.4 L500.5,295.4 L501.5,295.5 L502.5,295.6 L503.5,295.6 L504.5,295.7 L505.5,295.8 L506.5,295.9 L507.5,296.0 L508.5,296.1 L509.5,296.2 L510.5,296.4 L511.5,296.6 L512.5,296.7 L513.5,296.9 L514.5,297.2 L515.5,297.4 L516.5,297.6 L517.5,297.9 L518.5,298.2 L519.5,298.5 L520.5,298.8 L521.5,299.1 L522.5,299.5 L523.5,299.9 L524.5,300.2 L525.5,300.6 L526.5,301.0 L527.5,301.5 L528.5,301.9 L529.5,302.3 L530.5,302.8 L531.5,303.3 L532.5,303.8 L533.5,304.3 L534.5,304.8 L535.5,305.3 L536.5,305.8 L537.5,306.4 L538.5,306.9 L539.5,307.4 L540.5,308.0 L541.5,308.5 L542.5,309.0 L543.5,309.5 L544.5,310.0 L545.5,310.5 L546.5,311.0 L547.5,311.5 L548.5,312.0 L549.5,312.4 L550.5,312.8 L551.5,313.2 L552.5,313.6 L553.5,314.0 L554.5,314.3 L555.5,314.6 L556.5,314.9 L557.5,315.1 L558.5,315.3 L559.5,315.5 L560.5,315.7 L561.5,315.8 L562.5,315.8 L563.5,315.9 L564.5,315.8 L565.5,315.8 L566.5,315.7 L567.5,315.5 L568.5,315.3 L569.5,315.1 L570.5,314.8 L571.5,314.4 L572.5,314.1 L573.5,313.6 L574.5,313.2 L575.5,312.7 L576.5,312.1 L577.5,311.6 L578.5,311.0 L579.5,310.3 L580.5,309.7 L581.5,309.0 L582.5,308.2 L583.5,307.5 L584.5,306.7 L585.5,305.9 L586.5,305.0 L587.5,304.2 L588.5,303.3 L589.5,302.4 L590.5,301.5 L591.5,300.5 L592.5,299.6 L593.5,298.6 L594.5,297.6 L595.5,296.7 L596.5,295.7 L597.5,294.6 L598.5,293.6 L599.5,292.6 L600.5,291.5 L601.5,290.5 L602.5,289.5 L603.5,288.4 L604.5,287.4 L605.5,286.3 L606.5,285.3 L607.5,284.2 L608.5,283.2 L609.5,282.2 L610.5,281.1 L611.5,280.1 L612.5,279.1 L613.5,278.1 L614.5,277.1 L615.5,276.2 L616.5,275.2 L617.5,274.3 L618.5,273.3 L619.5,272.4 L620.5,271.6 L621.5,270.7 L622.5,269.9 L623.5,269.0 L624.5,268.3 L625.5,267.5 L626.5,266.7 L627.5,266.0 L628.5,265.4 L629.5,264.7 L630.5,264.1 L631.5,263.5 L632.5,263.0 L633.5,262.5 L634.5,262.0 L635.5,261.6 L636.5,261.2 L637.5,260.8 L638.5,260.5 L639.5,260.3 L640.5,260.1 L641.5,259.9 L642.5,259.7 L643.5,259.7 L644.5,259.6 L645.5,259.6 L646.5,259.6 L647.5,259.6 L648.5,259.7 L649.5,259.8 L650.5,259.9 L651.5,260.0 L652.5,260.1 L653.5,260.3 L654.5,260.5 L655.5,260.7 L656.5,260.9 L657.5,261.1 L658.5,261.3 L659.5,261.5 L660.5,261.7 L661.5,261.9 L662.5,262.1 L663.5,262.3 L664.5,262.5 L665.5,262.7 L666.5,262.8 L667.5,263.0 L668.5,263.2 L669.5,263.3 L670.5,263.5 L671.5,263.6 L672.5,263.7 L673.5,263.8 L674.5,263.9 L675.5,263.9 L676.5,264.0 L677.5,264.0 L678.5,264.0 L679.5,264.0 L680.5,263.9 L681.5,263.9 L682.5,263.8 L683.5,263.7 L684.5,263.5 L685.5,263.4 L686.5,263.2 L687.5,263.0 L688.5,262.7 L689.5,262.5 L690.5,262.2 L691.5,262.0 L692.5,261.7 L693.5,261.4 L694.5,261.1 L695.5,260.7 L696.5,260.4 L697.5,260.1 L698.5,259.7 L699.5,259.4 L700.5,259.0 L701.5,258.6 L702.5,258.2 L703.5,257.9 L704.5,257.5 L705.5,257.1 L706.5,256.7 L707.5,256.3 L708.5,256.0 L709.5,255.6 L710.5,255.2 L711.5,254.8 L712.5,254.5 L713.5,254.1 L714.5,253.8 L715.5,253.5 L716.5,253.2 L717.5,252.8 L718.5,252.6 L719.5,252.3 L720.5,252.0 L721.5,251.8 L722.5,251.5 L723.5,251.3 L724.5,251.2 L725.5,251.0 L726.5,250.8 L727.5,250.7 L728.5,250.6 L729.5,250.6 L730.5,250.5 L731.5,250.5 L732.5,250.5 L733.5,250.6 L734.5,250.6 L735.5,250.7 L736.5,250.8 L737.5,250.9 L738.5,251.1 L739.5,251.2 L740.5,251.4 L741.5,251.6 L742.5,251.9 L743.5,252.1 L744.5,252.4 L745.5,252.7 L746.5,253.0 L747.5,253.3 L748.5,253.6 L749.5,254.0 L750.5,254.4 L751.5,254.8 L752.5,255.2 L753.5,255.6 L754.5,256.0 L755.5,256.4 L756.5,256.9 L757.5,257.3 L758.5,257.8 L759.5,258.2 L760.5,258.7 L761.5,259.1 L762.5,259.6 L763.5,260.0 L764.5,260.4 L765.5,260.9 L766.5,261.3 L767.5,261.7 L768.5,262.1 L769.5,262.5 L770.5,262.9 L771.5,263.2 L772.5,263.6 L773.5,263.9 L774.5,264.2 L775.5,264.4 L776.5,264.7 L777.5,264.9 L778.5,265.1 L779.5,265.3 L780.5,265.4 L781.5,265.5 L782.5,265.6 L783.5,265.6 L784.5,265.6 L785.5,265.6 L786.5,265.5 L787.5,265.4 L788.5,265.3 L789.5,265.1 L790.5,264.9 L791.5,264.7 L792.5,264.4 L793.5,264.1 L794.5,263.8 L795.5,263.5 L796.5,263.1 L797.5,262.7 L798.5,262.2 L799.5,261.8 L800.5,261.3 L801.5,260.8 L802.5,260.2 L803.5,259.6 L804.5,259.0 L805.5,258.4 L806.5,257.7 L807.5,257.1 L808.5,256.4 L809.5,255.6 L810.5,254.9 L811.5,254.1 L812.5,253.3 L813.5,252.5 L814.5,251.6 L815.5,250.8 L816.5,249.9 L817.5,249.0 L818.5,248.0 L819.5,247.1 L820.5,246.1 L821.5,245.1 L822.5,244.1 L823.5,243.1 L824.5,242.1 L825.5,241.0 L826.5,240.0 L827.5,239.0 L828.5,238.0 L829.5,237.0 L830.5,236.0 L831.5,235.0 L832.5,234.0 L833.5,233.1 L834.5,232.2 L835.5,231.3 L836.5,230.5 L837.5,229.7 L838.5,228.9 L839.5,228.2 L840.5,227.5 L841.5,226.8 L842.5,226.2 L843.5,225.6 L844.5,225.0 L845.5,224.5 L846.5,224.1 L847.5,223.7 L848.5,223.3 L849.5,222.9 L850.5,222.7 L851.5,222.4 L852.5,222.2 L853.5,222.1 L854.5,221.9 L855.5,221.9 L856.5,221.8 L857.5,221.8 L858.5,221.9 L859.5,221.9 L860.5,222.0 L861.5,222.2 L862.5,222.3 L863.5,222.5 L864.5,222.8 L865.5,223.0 L866.5,223.3 L867.5,223.6 L868.5,224.0 L869.5,224.3 L870.5,224.7 L871.5,225.1 L872.5,225.6 L873.5,226.0 L874.5,226.5 L875.5,227.0 L876.5,227.5 L877.5,228.0 L878.5,228.6 L879.5,229.2 L880.5,229.7 L881.5,230.3 L882.5,230.9 L883.5,231.6 L884.5,232.2 L885.5,232.8 L886.5,233.5 L887.5,234.1 L888.5,234.8 L889.5,235.4 L890.5,236.1 L891.5,236.7 L892.5,237.3 L893.5,237.9 L894.5,238.5 L895.5,239.1 L896.5,239.7 L897.5,240.2 L898.5,240.7 L899.5,241.2 L900.5,241.7 L901.5,242.1 L902.5,242.5 L903.5,242.9 L904.5,243.2 L905.5,243.5 L906.5,243.7 L907.5,243.9 L908.5,244.0 L909.5,244.1 L910.5,244.1 L911.5,244.1 L912.5,244.0 L913.5,243.9 L914.5,243.6 L915.5,243.4 L916.5,243.0 L917.5,242.6 L918.5,242.1 L919.5,241.5 L920.5,240.9 L921.5,240.2 L922.5,239.4 L923.5,238.6 L924.5,237.7 L925.5,236.7 L926.5,235.7 L927.5,234.6 L928.5,233.4 L929.5,232.2 L930.5,230.8 L931.5,229.5 L932.5,228.0 L933.5,226.5 L934.5,224.9 L935.5,223.2 L936.5,221.5 L937.5,219.7 L938.5,217.8 L939.5,215.9 L940.5,213.9 L941.5,211.8 L942.5,209.7 L943.5,207.5 L944.5,205.3 L945.5,203.0 L946.5,200.6 L947.5,198.2 L948.5,195.7 L949.5,193.2 L950.5,190.6 L951.5,188.0 L952.5,185.3 L953.5,182.6 L954.5,179.9 L955.5,177.2 L956.5,174.4 L957.5,171.5 L958.5,168.7 L959.5,165.8 L960.5,162.9 L961.5,159.9 L962.5,157.0 L963.5,154.0 L964.5,151.1 L965.5,148.1 L966.5,145.2 L967.5,142.2 L968.5,139.3 L969.5,136.5 L970.5,133.6 L971.5,130.8 L972.5,128.1 L973.5,125.4 L974.5,122.7 L975.5,120.2 L976.5,117.7 L977.5,115.2 L978.5,112.9 L979.5,110.6 L980.5,108.5 L981.5,106.4 L982.5,104.5 L983.5,102.7 L984.5,101.0 L985.5,99.4 L986.5,97.9 L987.5,96.6 L988.5,95.4 L989.5,94.4 L990.5,93.5 L991.5,92.7 L992.5,92.1 L993.5,91.6 L994.5,91.2 L995.5,91.0 L996.5,90.9 L997.5,91.0 L998.5,91.2 L999.5,91.5 L1000.5,92.0 L1001.5,92.6 L1002.5,93.4 L1003.5,94.3 L1004.5,95.4 L1005.5,96.6 L1006.5,98.0 L1007.5,99.5 L1008.5,101.1 L1009.5,102.9 L1010.5,104.9 L1011.5,107.0 L1012.5,109.2 L1013.5,111.6 L1014.5,114.1 L1015.5,116.7 L1016.5,119.4 L1017.5,122.3 L1018.5,125.2 L1019.5,128.2 L1020.5,131.3 L1021.5,134.5 L1022.5,137.8 L1023.5,141.1 L1024.5,144.5 L1025.5,148.0 L1026.5,151.5 L1027.5,155.0 L1028.5,158.6 L1029.5,162.1 L1030.5,165.8 L1031.5,169.4 L1032.5,173.0 L1033.5,176.6 L1034.5,180.2 L1035.5,183.8 L1036.5,187.4 L1037.5,191.0 L1038.5,194.5 L1039.5,197.9 L1040.5,201.4 L1041.5,204.7 L1042.5,208.0 L1043.5,211.3 L1044.5,214.4 L1045.5,217.5 L1046.5,220.5 L1047.5,223.4 L1048.5,226.2 L1049.5,229.0 L1050.5,231.6 L1051.5,234.2 L1052.5,236.6 L1053.5,239.0 L1054.5,241.3 L1055.5,243.5 L1056.5,245.6 L1057.5,247.6 L1058.5,249.5 L1059.5,251.3 L1060.5,253.0 L1061.5,254.7 L1062.5,256.2 L1063.5,257.6 L1064.5,259.0 L1065.5,260.3 L1066.5,261.4 L1067.5,262.5 L1068.5,263.5 L1069.5,264.4 L1070.5,265.2 L1071.5,265.9 L1072.5,266.6 L1073.5,267.1 L1074.5,267.6 L1075.5,268.0 L1076.5,268.4 L1077.5,268.6 L1078.5,268.8 L1079.5,269.0 L1080.5,269.0 L1081.5,269.0 L1082.5,269.0 L1083.5,268.8 L1084.5,268.7 L1085.5,268.4 L1086.5,268.1 L1087.5,267.8 L1088.5,267.4 L1089.5,266.9 L1090.5,266.4 L1091.5,265.9 L1092.5,265.3 L1093.5,264.7 L1094.5,264.0 L1095.5,263.3 L1096.5,262.6 L1097.5,261.8 L1098.5,261.0 L1099.5,260.2 L1100.5,259.3 L1101.5,258.4" stroke="#a94cdc"/>
<path d="M91.5,208.1 L92.5,207.7 L93.5,207.4 L94.5,207.2 L95.5,206.9 L96.5,206.7 L97.5,206.6 L98.5,206.5 L99.5,206.5 L100.5,206.5 L101.5,206.6 L102.5,206.8 L103.5,207.0 L104.5,207.4 L105.5,207.8 L106.5,208.2 L107.5,208.8 L108.5,209.5 L109.5,210.2 L110.5,211.1 L111.5,212.0 L112.5,213.0 L113.5,214.1 L114.5,215.2 L115.5,216.5 L116.5,217.7 L117.5,219.0 L118.5,220.4 L119.5,221.8 L120.5,223.2 L121.5,224.7 L122.5,226.1 L123.5,227.6 L124.5,229.0 L125.5,230.5 L126.5,231.9 L127.5,233.3 L128.5,234.7 L129.5,236.1 L130.5,237.5 L131.5,238.8 L132.5,240.1 L133.5,241.4 L134.5,242.7 L135.5,243.9 L136.5,245.2 L137.5,246.4 L138.5,247.5 L139.5,248.6 L140.5,249.7 L141.5,250.8 L142.5,251.8 L143.5,252.8 L144.5,253.7 L145.5,254.6 L146.5,255.5 L147.5,256.3 L148.5,257.1 L149.5,257.8 L150.5,258.5 L151.5,259.1 L152.5,259.7 L153.5,260.3 L154.5,260.8 L155.5,261.2 L156.5,261.6 L157.5,262.0 L158.5,262.3 L159.5,262.6 L160.5,262.8 L161.5,263.0 L162.5,263.1 L163.5,263.1 L164.5,263.2 L165.5,263.2 L166.5,263.1 L167.5,263.0 L168.5,262.9 L169.5,262.8 L170.5,262.6 L171.5,262.4 L172.5,262.3 L173.5,262.0 L174.5,261.8 L175.5,261.6 L176.5,261.4 L177.5,261.2 L178.5,261.0 L179.5,260.8 L180.5,260.6 L181.5,260.4 L182.5,260.2 L183.5,260.0 L184.5,259.9 L185.5,259.7 L186.5,259.6 L187.5,259.5 L188.5,259.4 L189.5,259.3 L190.5,259.3 L191.5,259.2 L192.5,259.2 L193.5,259.1 L194.5,259.1 L195.5,259.2 L196.5,259.2 L197.5,259.2 L198.5,259.3 L199.5,259.4 L200.5,259.5 L201.5,259.6 L202.5,259.8 L203.5,260.0 L204.5,260.2 L205.5,260.4 L206.5,260.6 L207.5,260.9 L208.5,261.2 L209.5,261.5 L210.5,261.8 L211.5,262.2 L212.5,262.6 L213.5,263.0 L214.5,263.4 L215.5,263.8 L216.5,264.2 L217.5,264.7 L218.5,265.1 L219.5,265.6 L220.5,266.1 L221.5,266.6 L222.5,267.1 L223.5,267.5 L224.5,268.0 L225.5,268.5 L226.5,269.0 L227.5,269.5 L228.5,270.0 L229.5,270.4 L230.5,270.9 L231.5,271.3 L232.5,271.8 L233.5,272.2 L234.5,272.6 L235.5,273.0 L236.5,273.4 L237.5,273.7 L238.5,274.1 L239.5,274.4 L240.5,274.7 L241.5,274.9 L242.5,275.2 L243.5,275.4 L244.5,275.5 L245.5,275.7 L246.5,275.8 L247.5,275.9 L248.5,275.9 L249.5,275.9 L250.5,275.9 L251.5,275.8 L252.5,275.7 L253.5,275.5 L254.5,275.3 L255.5,275.0 L256.5,274.7 L257.5,274.4 L258.5,274.0 L259.5,273.6 L260.5,273.1 L261.5,272.7 L262.5,272.2 L263.5,271.7 L264.5,271.2 L265.5,270.7 L266.5,270.1 L267.5,269.6 L268.5,269.0 L269.5,268.4 L270.5,267.8 L271.5,267.2 L272.5,266.5 L273.5,265.8 L274.5,265.0 L275.5,264.3 L276.5,263.5 L277.5,262.7 L278.5,261.9 L279.5,261.1 L280.5,260.3 L281.5,259.5 L282.5,258.7 L283.5,257.9 L284.5,257.1 L285.5,256.4 L286.5,255.7 L287.5,255.0 L288.5,254.3 L289.5,253.7 L290.5,253.0 L291.5,252.4 L292.5,251.9 L293.5,251.3 L294.5,250.8 L295.5,250.3 L296.5,249.8 L297.5,249.4 L298.5,248.9 L299.5,248.5 L300.5,248.2 L301.5,247.8 L302.5,247.5 L303.5,247.2 L304.5,246.9 L305.5,246.7 L306.5,246.4 L307.5,246.2 L308.5,246.0 L309.5,245.9 L310.5,245.7 L311.5,245.6 L312.5,245.6 L313.5,245.5 L314.5,245.5 L315.5,245.4 L316.5,245.5 L317.5,245.5 L318.5,245.5 L319.5,245.6 L320.5,245.7 L321.5,245.9 L322.5,246.0 L323.5,246.2 L324.5,246.4 L325.5,246.6 L326.5,246.9 L327.5,247.1 L328.5,247.4 L329.5,247.7 L330.5,248.1 L331.5,248.4 L332.5,248.7 L333.5,249.1 L334.5,249.5 L335.5,249.8 L336.5,250.2 L337.5,250.6 L338.5,251.0 L339.5,251.4 L340.5,251.8 L341.5,252.2 L342.5,252.6 L343.5,252.9 L344.5,253.3 L345.5,253.7 L346.5,254.0 L347.5,254.4 L348.5,254.7 L349.5,255.0 L350.5,255.3 L351.5,255.5 L352.5,255.8 L353.5,256.0 L354.5,256.2 L355.5,256.4 L356.5,256.6 L357.5,256.7 L358.5,256.8 L359.5,256.9 L360.5,257.0 L361.5,257.0 L362.5,257.1 L363.5,257.1 L364.5,257.1 L365.5,257.1 L366.5,257.0 L367.5,257.0 L368.5,256.9 L369.5,256.9 L370.5,256.8 L371.5,256.7 L372.5,256.6 L373.5,256.4 L374.5,256.3 L375.5,256.2 L376.5,256.0 L377.5,255.9 L378.5,255.7 L379.5,255.5 L380.5,255.4 L381.5,255.2 L382.5,255.0 L383.5,254.8 L384.5,254.6 L385.5,254.4 L386.5,254.2 L387.5,254.0 L388.5,253.8 L389.5,253.6 L390.5,253.4 L391.5,253.2 L392.5,253.0 L393.5,252.8 L394.5,252.6 L395.5,252.5 L396.5,252.3 L397.5,252.1 L398.5,251.9 L399.5,251.8 L400.5,251.6 L401.5,251.5 L402.5,251.3 L403.5,251.2 L404.5,251.1 L405.5,250.9 L406.5,250.8 L407.5,250.7 L408.5,250.6 L409.5,250.5 L410.5,250.4 L411.5,250.3 L412.5,250.3 L413.5,250.2 L414.5,250.1 L415.5,250.1 L416.5,250.0 L417.5,250.0 L418.5,249.9 L419.5,249.9 L420.5,249.9 L421.5,249.9 L422.5,249.9 L423.5,249.9 L424.5,249.9 L425.5,249.9 L426.5,249.9 L427.5,250.0 L428.5,250.0 L429.5,250.1 L430.5,250.1 L431.5,250.2 L432.5,250.3 L433.5,250.4 L434.5,250.5 L435.5,250.6 L436.5,250.7 L437.5,250.8 L438.5,250.9 L439.5,251.1 L440.5,251.2 L441.5,251.3 L442.5,251.5 L443.5,251.6 L444.5,251.8 L445.5,252.0 L446.5,252.1 L447.5,252.3 L448.5,252.5 L449.5,252.7 L450.5,252.9 L451.5,253.0 L452.5,253.2 L453.5,253.4 L454.5,253.6 L455.5,253.9 L456.5,254.1 L457.5,254.3 L458.5,254.5 L459.5,254.7 L460.5,254.9 L461.5,255.1 L462.5,255.4 L463.5,255.6 L464.5,255.8 L465.5,256.0 L466.5,256.3 L467.5,256.5 L468.5,256.7 L469.5,257.0 L470.5,257.2 L471.5,257.4 L472.5,257.6 L473.5,257.9 L474.5,258.1 L475.5,258.3 L476.5,258.6 L477.5,258.8 L478.5,259.0 L479.5,259.2 L480.5,259.5 L481.5,259.7 L482.5,259.9 L483.5,260.1 L484.5,260.3 L485.5,260.5 L486.5,260.8 L487.5,261.0 L488.5,261.2 L489.5,261.4 L490.5,261.6 L491.5,261.8 L492.5,262.0 L493.5,262.1 L494.5,262.3 L495.5,262.5 L496.5,262.7 L497.5,262.9 L498.5,263.0 L499.5,263.2 L500.5,263.4 L501.5,263.5 L502.5,263.7 L503.5,263.8 L504.5,264.0 L505.5,264.1 L506.5,264.2 L507.5,264.3 L508.5,264.4 L509.5,264.5 L510.5,264.6 L511.5,264.7 L512.5,264.7 L513.5,264.8 L514.5,264.8 L515.5,264.8 L516.5,264.7 L517.5,264.7 L518.5,264.6 L519.5,264.5 L520.5,264.4 L521.5,264.2 L522.5,264.0 L523.5,263.8 L524.5,263.6 L525.5,263.3 L526.5,262.9 L527.5,262.6 L528.5,262.2 L529.5,261.8 L530.5,261.4 L531.5,260.9 L532.5,260.5 L533.5,260.0 L534.5,259.5 L535.5,259.0 L536.5,258.4 L537.5,257.9 L538.5,257.3 L539.5,256.8 L540.5,256.2 L541.5,255.6 L542.5,255.0 L543.5,254.5 L544.5,253.9 L545.5,253.3 L546.5,252.8 L547.5,252.2 L548.5,251.7 L549.5,251.1 L550.5,250.6 L551.5,250.0 L552.5,249.5 L553.5,249.0 L554.5,248.4 L555.5,247.8 L556.5,247.3 L557.5,246.7 L558.5,246.1 L559.5,245.6 L560.5,245.0 L561.5,244.4 L562.5,243.8 L563.5,243.3 L564.5,242.7 L565.5,242.2 L566.5,241.7 L567.5,241.2 L568.5,240.8 L569.5,240.4 L570.5,240.0 L571.5,239.7 L572.5,239.4 L573.5,239.2 L574.5,239.0 L575.5,238.8 L576.5,238.7 L577.5,238.6 L578.5,238.6 L579.5,238.6 L580.5,238.6 L581.5,238.7 L582.5,238.8 L583.5,238.9 L584.5,239.0 L585.5,239.2 L586.5,239.4 L587.5,239.7 L588.5,240.0 L589.5,240.2 L590.5,240.6 L591.5,240.9 L592.5,241.2 L593.5,241.6 L594.5,242.0 L595.5,242.4 L596.5,242.9 L597.5,243.3 L598.5,243.8 L599.5,244.2 L600.5,244.7 L601.5,245.2 L602.5,245.7 L603.5,246.2 L604.5,246.7 L605.5,247.2 L606.5,247.8 L607.5,248.3 L608.5,248.8 L609.5,249.3 L610.5,249.9 L611.5,250.4 L612.5,250.9 L613.5,251.4 L614.5,252.0 L615.5,252.5 L616.5,253.0 L617.5,253.5 L618.5,254.0 L619.5,254.5 L620.5,254.9 L621.5,255.4 L622.5,255.9 L623.5,256.3 L624.5,256.7 L625.5,257.1 L626.5,257.5 L627.5,257.9 L628.5,258.3 L629.5,258.6 L630.5,258.9 L631.5,259.2 L632.5,259.5 L633.5,259.8 L634.5,260.0 L635.5,260.2 L636.5,260.4 L637.5,260.5 L638.5,260.6 L639.5,260.7 L640.5,260.8 L641.5,260.8 L642.5,260.8 L643.5,260.8 L644.5,260.8 L645.5,260.7 L646.5,260.6 L647.5,260.5 L648.5,260.4 L649.5,260.3 L650.5,260.1 L651.5,260.0 L652.5,259.8 L653.5,259.6 L654.5,259.4 L655.5,259.2 L656.5,259.0 L657.5,258.8 L658.5,258.5 L659.5,258.3 L660.5,258.1 L661.5,257.9 L662.5,257.7 L663.5,257.4 L664.5,257.2 L665.5,257.0 L666.5,256.8 L667.5,256.6 L668.5,256.5 L669.5,256.3 L670.5,256.1 L671.5,256.0 L672.5,255.9 L673.5,255.8 L674.5,255.7 L675.5,255.6 L676.5,255.6 L677.5,255.6 L678.5,255.6 L679.5,255.6 L680.5,255.7 L681.5,255.7 L682.5,255.9 L683.5,256.0 L684.5,256.2 L685.5,256.4 L686.5,256.6 L687.5,256.9 L688.5,257.2 L689.5,257.5 L690.5,257.8 L691.5,258.2 L692.5,258.5 L693.5,258.9 L694.5,259.3 L695.5,259.8 L696.5,260.2 L697.5,260.7 L698.5,261.1 L699.5,261.6 L700.5,262.1 L701.5,262.6 L702.5,263.1 L703.5,263.7 L704.5,264.2 L705.5,264.7 L706.5,265.3 L707.5,265.8 L708.5,266.4 L709.5,266.9 L710.5,267.5 L711.5,268.0 L712.5,268.6 L713.5,269.1 L714.5,269.6 L715.5,270.2 L716.5,270.7 L717.5,271.2 L718.5,271.6 L719.5,272.1 L720.5,272.6 L721.5,273.0 L722.5,273.4 L723.5,273.8 L724.5,274.2 L725.5,274.5 L726.5,274.8 L727.5,275.1 L728.5,275.3 L729.5,275.6 L730.5,275.7 L731.5,275.9 L732.5,276.0 L733.5,276.1 L734.5,276.2 L735.5,276.2 L736.5,276.2 L737.5,276.2 L738.5,276.2 L739.5,276.1 L740.5,276.0 L741.5,275.9 L742.5,275.7 L743.5,275.5 L744.5,275.3 L745.5,275.1 L746.5,274.8 L747.5,274.6 L748.5,274.3 L749.5,273.9 L750.5,273.6 L751.5,273.2 L752.5,272.8 L753.5,272.4 L754.5,272.0 L755.5,271.6 L756.5,271.1 L757.5,270.7 L758.5,270.2 L759.5,269.7 L760.5,269.2 L761.5,268.8 L762.5,268.3 L763.5,267.8 L764.5,267.3 L765.5,266.8 L766.5,266.3 L767.5,265.8 L768.5,265.4 L769.5,264.9 L770.5,264.5 L771.5,264.0 L772.5,263.6 L773.5,263.2 L774.5,262.8 L775.5,262.4 L776.5,262.1 L777.5,261.7 L778.5,261.4 L779.5,261.2 L780.5,260.9 L781.5,260.7 L782.5,260.5 L783.5,260.3 L784.5,260.2 L785.5,260.0 L786.5,260.0 L787.5,259.9 L788.5,259.9 L789.5,259.8 L790.5,259.9 L791.5,259.9 L792.5,260.0 L793.5,260.1 L794.5,260.2 L795.5,260.3 L796.5,260.5 L797.5,260.7 L798.5,260.9 L799.5,261.1 L800.5,261.4 L801.5,261.6 L802.5,261.9 L803.5,262.2 L804.5,262.5 L805.5,262.8 L806.5,263.1 L807.5,263.4 L808.5,263.7 L809.5,264.0 L810.5,264.4 L811.5,264.7 L812.5,265.0 L813.5,265.2 L814.5,265.5 L815.5,265.8 L816.5,266.0 L817.5,266.2 L818.5,266.4 L819.5,266.6 L820.5,266.8 L821.5,266.9 L822.5,267.1 L823.5,267.2 L824.5,267.2 L825.5,267.3 L826.5,267.3 L827.5,267.3 L828.5,267.3 L829.5,267.3 L830.5,267.3 L831.5,267.2 L832.5,267.1 L833.5,267.0 L834.5,266.9 L835.5,266.7 L836.5,266.5 L837.5,266.3 L838.5,266.1 L839.5,265.8 L840.5,265.6 L841.5,265.3 L842.5,265.0 L843.5,264.6 L844.5,264.3 L845.5,263.9 L846.5,263.5 L847.5,263.1 L848.5,262.6 L849.5,262.2 L850.5,261.7 L851.5,261.2 L852.5,260.6 L853.5,260.1 L854.5,259.5 L855.5,258.9 L856.5,258.3 L857.5,257.7 L858.5,257.1 L859.5,256.5 L860.5,255.9 L861.5,255.3 L862.5,254.7 L863.5,254.1 L864.5,253.5 L865.5,252.9 L866.5,252.3 L867.5,251.7 L868.5,251.2 L869.5,250.6 L870.5,250.1 L871.5,249.6 L872.5,249.1 L873.5,248.7 L874.5,248.3 L875.5,247.9 L876.5,247.5 L877.5,247.2 L878.5,246.9 L879.5,246.7 L880.5,246.5 L881.5,246.3 L882.5,246.2 L883.5,246.1 L884.5,246.1 L885.5,246.1 L886.5,246.2 L887.5,246.4 L888.5,246.6 L889.5,246.8 L890.5,247.1 L891.5,247.4 L892.5,247.7 L893.5,248.1 L894.5,248.5 L895.5,249.0 L896.5,249.5 L897.5,250.0 L898.5,250.5 L899.5,251.0 L900.5,251.6 L901.5,252.2 L902.5,252.7 L903.5,253.3 L904.5,253.9 L905.5,254.5 L906.5,255.1 L907.5,255.7 L908.5,256.3 L909.5,256.9 L910.5,257.4 L911.5,258.0 L912.5,258.5 L913.5,259.1 L914.5,259.6 L915.5,260.0 L916.5,260.5 L917.5,260.9 L918.5,261.3 L919.5,261.6 L920.5,261.9 L921.5,262.1 L922.5,262.3 L923.5,262.5 L924.5,262.5 L925.5,262.5 L926.5,262.5 L927.5,262.3 L928.5,262.1 L929.5,261.8 L930.5,261.5 L931.5,261.0 L932.5,260.5 L933.5,259.8 L934.5,259.1 L935.5,258.3 L936.5,257.5 L937.5,256.5 L938.5,255.5 L939.5,254.4 L940.5,253.2 L941.5,252.0 L942.5,250.6 L943.5,249.2 L944.5,247.8 L945.5,246.2 L946.5,244.6 L947.5,243.0 L948.5,241.2 L949.5,239.4 L950.5,237.6 L951.5,235.6 L952.5,233.6 L953.5,231.6 L954.5,229.4 L955.5,227.3 L956.5,225.0 L957.5,222.7 L958.5,220.4 L959.5,218.0 L960.5,215.6 L961.5,213.1 L962.5,210.7 L963.5,208.2 L964.5,205.7 L965.5,203.2 L966.5,200.7 L967.5,198.2 L968.5,195.7 L969.5,193.2 L970.5,190.8 L971.5,188.4 L972.5,186.0 L973.5,183.7 L974.5,181.4 L975.5,179.1 L976.5,177.0 L977.5,174.9 L978.5,172.9 L979.5,170.9 L980.5,169.0 L981.5,167.3 L982.5,165.6 L983.5,164.0 L984.5,162.5 L985.5,161.1 L986.5,159.9 L987.5,158.7 L988.5,157.7 L989.5,156.7 L990.5,155.9 L991.5,155.2 L992.5,154.7 L993.5,154.2 L994.5,153.9 L995.5,153.8 L996.5,153.7 L997.5,153.8 L998.5,154.1 L999.5,154.5 L1000.5,155.0 L1001.5,155.6 L1002.5,156.5 L1003.5,157.4 L1004.5,158.5 L1005.5,159.8 L1006.5,161.1 L1007.5,162.6 L1008.5,164.2 L1009.5,165.9 L1010.5,167.8 L1011.5,169.7 L1012.5,171.7 L1013.5,173.8 L1014.5,176.0 L1015.5,178.3 L1016.5,180.6 L1017.5,183.0 L1018.5,185.4 L1019.5,187.9 L1020.5,190.4 L1021.5,192.9 L1022.5,195.4 L1023.5,197.9 L1024.5,200.3 L1025.5,202.8 L1026.5,205.2 L1027.5,207.6 L1028.5,210.0 L1029.5,212.3 L1030.5,214.5 L1031.5,216.7 L1032.5,218.8 L1033.5,220.9 L1034.5,222.9 L1035.5,224.8 L1036.5,226.7 L1037.5,228.6 L1038.5,230.3 L1039.5,232.0 L1040.5,233.7 L1041.5,235.3 L1042.5,236.8 L1043.5,238.3 L1044.5,239.7 L1045.5,241.0 L1046.5,242.3 L1047.5,243.6 L1048.5,244.8 L1049.5,245.9 L1050.5,246.9 L1051.5,247.9 L1052.5,248.8 L1053.5,249.6 L1054.5,250.4 L1055.5,251.0 L1056.5,251.5 L1057.5,252.0 L1058.5,252.3 L1059.5,252.5 L1060.5,252.6 L1061.5,252.5 L1062.5,252.4 L1063.5,252.1 L1064.5,251.8 L1065.5,251.3 L1066.5,250.8 L1067.5,250.2 L1068.5,249.5 L1069.5,248.7 L1070.5,247.8 L1071.5,246.9 L1072.5,245.9 L1073.5,244.9 L1074.5,243.8 L1075.5,242.6 L1076.5,241.5 L1077.5,240.2 L1078.5,239.0 L1079.5,237.7 L1080.5,236.4 L1081.5,235.1 L1082.5,233.7 L1083.5,232.4 L1084.5,231.1 L1085.5,229.7 L1086.5,228.4 L1087.5,227.0 L1088.5,225.7 L1089.5,224.4 L1090.5,223.1 L1091.5,221.8 L1092.5,220.6 L1093.5,219.4 L1094.5,218.2 L1095.5,217.0 L1096.5,215.9 L1097.5,214.9 L1098.5,213.8 L1099.5,212.9 L1100.5,211.9 L1101.5,211.1" stroke="#d8914d"/>
<path d="M91.5,223.1 L92.5,222.9 L93.5,222.8 L94.5,222.7 L95.5,222.8 L96.5,222.9 L97.5,223.1 L98.5,223.3 L99.5,223.7 L100.5,224.0 L101.5,224.5 L102.5,224.9 L103.5,225.5 L104.5,226.1 L105.5,226.7 L106.5,227.4 L107.5,228.1 L108.5,228.9 L109.5,229.7 L110.5,230.5 L111.5,231.3 L112.5,232.2 L113.5,233.1 L114.5,234.1 L115.5,235.0 L116.5,236.0 L117.5,237.0 L118.5,238.0 L119.5,239.0 L120.5,240.0 L121.5,241.1 L122.5,242.1 L123.5,243.1 L124.5,244.1 L125.5,245.1 L126.5,246.1 L127.5,247.1 L128.5,248.1 L129.5,249.1 L130.5,250.0 L131.5,251.0 L132.5,251.9 L133.5,252.8 L134.5,253.7 L135.5,254.5 L136.5,255.4 L137.5,256.2 L138.5,256.9 L139.5,257.7 L140.5,258.4 L141.5,259.1 L142.5,259.7 L143.5,260.4 L144.5,260.9 L145.5,261.5 L146.5,262.0 L147.5,262.4 L148.5,262.8 L149.5,263.2 L150.5,263.5 L151.5,263.8 L152.5,264.0 L153.5,264.1 L154.5,264.3 L155.5,264.3 L156.5,264.4 L157.5,264.3 L158.5,264.3 L159.5,264.2 L160.5,264.0 L161.5,263.8 L162.5,263.6 L163.5,263.4 L164.5,263.1 L165.5,262.8 L166.5,262.4 L167.5,262.1 L168.5,261.7 L169.5,261.2 L170.5,260.8 L171.5,260.3 L172.5,259.8 L173.5,259.3 L174.5,258.7 L175.5,258.2 L176.5,257.6 L177.5,257.0 L178.5,256.5 L179.5,255.8 L180.5,255.2 L181.5,254.6 L182.5,254.0 L183.5,253.3 L184.5,252.7 L185.5,252.1 L186.5,251.4 L187.5,250.8 L188.5,250.2 L189.5,249.5 L190.5,248.9 L191.5,248.3 L192.5,247.7 L193.5,247.1 L194.5,246.5 L195.5,245.9 L196.5,245.4 L197.5,244.8 L198.5,244.3 L199.5,243.8 L200.5,243.3 L201.5,242.8 L202.5,242.4 L203.5,242.0 L204.5,241.6 L205.5,241.2 L206.5,240.9 L207.5,240.6 L208.5,240.3 L209.5,240.1 L210.5,239.9 L211.5,239.7 L212.5,239.6 L213.5,239.5 L214.5,239.5 L215.5,239.5 L216.5,239.5 L217.5,239.5 L218.5,239.6 L219.5,239.6 L220.5,239.7 L221.5,239.9 L222.5,240.0 L223.5,240.2 L224.5,240.4 L225.5,240.6 L226.5,240.8 L227.5,241.0 L228.5,241.3 L229.5,241.5 L230.5,241.8 L231.5,242.0 L232.5,242.3 L233.5,242.6 L234.5,242.9 L235.5,243.1 L236.5,243.4 L237.5,243.7 L238.5,243.9 L239.5,244.2 L240.5,244.5 L241.5,244.7 L242.5,244.9 L243.5,245.1 L244.5,245.3 L245.5,245.5 L246.5,245.7 L247.5,245.9 L248.5,246.0 L249.5,246.1 L250.5,246.2 L251.5,246.3 L252.5,246.3 L253.5,246.3 L254.5,246.3 L255.5,246.3 L256.5,246.3 L257.5,246.2 L258.5,246.1 L259.5,246.0 L260.5,245.9 L261.5,245.8 L262.5,245.7 L263.5,245.6 L264.5,245.4 L265.5,245.3 L266.5,245.1 L267.5,244.9 L268.5,244.7 L269.5,244.5 L270.5,244.3 L271.5,244.2 L272.5,244.0 L273.5,243.8 L274.5,243.6 L275.5,243.4 L276.5,243.2 L277.5,243.0 L278.5,242.8 L279.5,242.6 L280.5,242.4 L281.5,242.2 L282.5,242.1 L283.5,241.9 L284.5,241.8 L285.5,241.6 L286.5,241.5 L287.5,241.3 L288.5,241.2 L289.5,241.1 L290.5,241.0 L291.5,240.9 L292.5,240.8 L293.5,240.7 L294.5,240.7 L295.5,240.6 L296.5,240.6 L297.5,240.6 L298.5,240.6 L299.5,240.6 L300.5,240.6 L301.5,240.6 L302.5,240.7 L303.5,240.7 L304.5,240.8 L305.5,240.9 L306.5,241.0 L307.5,241.1 L308.5,241.3 L309.5,241.4 L310.5,241.6 L311.5,241.8 L312.5,242.0 L313.5,242.3 L314.5,242.6 L315.5,242.8 L316.5,243.1 L317.5,243.5 L318.5,243.8 L319.5,244.2 L320.5,244.6 L321.5,245.0 L322.5,245.4 L323.5,245.9 L324.5,246.4 L325.5,246.9 L326.5,247.4 L327.5,247.9 L328.5,248.4 L329.5,249.0 L330.5,249.6 L331.5,250.1 L332.5,250.7 L333.5,251.3 L334.5,251.8 L335.5,252.4 L336.5,253.0 L337.5,253.6 L338.5,254.1 L339.5,254.7 L340.5,255.3 L341.5,255.8 L342.5,256.3 L343.5,256.9 L344.5,257.4 L345.5,257.8 L346.5,258.3 L347.5,258.8 L348.5,259.2 L349.5,259.6 L350.5,260.0 L351.5,260.4 L352.5,260.7 L353.5,261.0 L354.5,261.3 L355.5,261.6 L356.5,261.9 L357.5,262.1 L358.5,262.3 L359.5,262.5 L360.5,262.7 L361.5,262.8 L362.5,262.9 L363.5,263.0 L364.5,263.1 L365.5,263.1 L366.5,263.1 L367.5,263.1 L368.5,263.1 L369.5,263.0 L370.5,262.9 L371.5,262.8 L372.5,262.6 L373.5,262.5 L374.5,262.3 L375.5,262.0 L376.5,261.8 L377.5,261.6 L378.5,261.3 L379.5,261.0 L380.5,260.7 L381.5,260.3 L382.5,260.0 L383.5,259.6 L384.5,259.3 L385.5,258.9 L386.5,258.5 L387.5,258.0 L388.5,257.6 L389.5,257.2 L390.5,256.7 L391.5,256.3 L392.5,255.8 L393.5,255.3 L394.5,254.8 L395.5,254.3 L396.5,253.9 L397.5,253.4 L398.5,252.9 L399.5,252.4 L400.5,251.9 L401.5,251.4 L402.5,250.9 L403.5,250.5 L404.5,250.0 L405.5,249.6 L406.5,249.1 L407.5,248.7 L408.5,248.3 L409.5,247.9 L410.5,247.5 L411.5,247.1 L412.5,246.8 L413.5,246.4 L414.5,246.1 L415.5,245.8 L416.5,245.6 L417.5,245.3 L418.5,245.1 L419.5,244.9 L420.5,244.8 L421.5,244.6 L422.5,244.5 L423.5,244.5 L424.5,244.4 L425.5,244.4 L426.5,244.4 L427.5,244.5 L428.5,244.6 L429.5,244.6 L430.5,244.8 L431.5,244.9 L432.5,245.0 L433.5,245.2 L434.5,245.4 L435.5,245.6 L436.5,245.9 L437.5,246.1 L438.5,246.4 L439.5,246.6 L440.5,246.9 L441.5,247.2 L442.5,247.5 L443.5,247.9 L444.5,248.2 L445.5,248.5 L446.5,248.9 L447.5,249.2 L448.5,249.5 L449.5,249.9 L450.5,250.3 L451.5,250.6 L452.5,251.0 L453.5,251.3 L454.5,251.7 L455.5,252.0 L456.5,252.4 L457.5,252.7 L458.5,253.1 L459.5,253.4 L460.5,253.7 L461.5,254.0 L462.5,254.4 L463.5,254.6 L464.5,254.9 L465.5,255.2 L466.5,255.5 L467.5,255.7 L468.5,256.0 L469.5,256.2 L470.5,256.4 L471.5,256.6 L472.5,256.8 L473.5,257.0 L474.5,257.2 L475.5,257.3 L476.5,257.5 L477.5,257.7 L478.5,257.8 L479.5,257.9 L480.5,258.1 L481.5,258.2 L482.5,258.3 L483.5,258.4 L484.5,258.5 L485.5,258.6 L486.5,258.7 L487.5,258.8 L488.5,258.9 L489.5,259.0 L490.5,259.1 L491.5,259.1 L492.5,259.2 L493.5,259.3 L494.5,259.3 L495.5,259.4 L496.5,259.4 L497.5,259.5 L498.5,259.5 L499.5,259.6 L500.5,259.7 L501.5,259.7 L502.5,259.8 L503.5,259.8 L504.5,259.9 L505.5,259.9 L506.5,260.0 L507.5,260.0 L508.5,260.1 L509.5,260.2 L510.5,260.2 L511.5,260.3 L512.5,260.4 L513.5,260.5 L514.5,260.6 L515.5,260.7 L516.5,260.7 L517.5,260.9 L518.5,261.0 L519.5,261.1 L520.5,261.2 L521.5,261.3 L522.5,261.5 L523.5,261.6 L524.5,261.8 L525.5,261.9 L526.5,262.1 L527.5,262.3 L528.5,262.5 L529.5,262.7 L530.5,262.9 L531.5,263.1 L532.5,263.3 L533.5,263.6 L534.5,263.8 L535.5,264.1 L536.5,264.4 L537.5,264.6 L538.5,264.9 L539.5,265.2 L540.5,265.5 L541.5,265.8 L542.5,266.1 L543.5,266.4 L544.5,266.6 L545.5,266.9 L546.5,267.2 L547.5,267.5 L548.5,267.8 L549.5,268.1 L550.5,268.3 L551.5,268.6 L552.5,268.8 L553.5,269.1 L554.5,269.3 L555.5,269.5 L556.5,269.7 L557.5,269.9 L558.5,270.1 L559.5,270.2 L560.5,270.4 L561.5,270.5 L562.5,270.6 L563.5,270.7 L564.5,270.8 L565.5,270.9 L566.5,271.0 L567.5,271.0 L568.5,271.1 L569.5,271.1 L570.5,271.1 L571.5,271.1 L572.5,271.1 L573.5,271.1 L574.5,271.0 L575.5,271.0 L576.5,270.9 L577.5,270.9 L578.5,270.8 L579.5,270.7 L580.5,270.6 L581.5,270.5 L582.5,270.4 L583.5,270.3 L584.5,270.2 L585.5,270.0 L586.5,269.9 L587.5,269.7 L588.5,269.5 L589.5,269.4 L590.5,269.2 L591.5,269.0 L592.5,268.8 L593.5,268.6 L594.5,268.4 L595.5,268.2 L596.5,267.9 L597.5,267.7 L598.5,267.5 L599.5,267.2 L600.5,267.0 L601.5,266.7 L602.5,266.5 L603.5,266.2 L604.5,265.9 L605.5,265.6 L606.5,265.4 L607.5,265.1 L608.5,264.8 L609.5,264.5 L610.5,264.2 L611.5,263.9 L612.5,263.6 L613.5,263.3 L614.5,263.0 L615.5,262.7 L616.5,262.4 L617.5,262.1 L618.5,261.8 L619.5,261.4 L620.5,261.1 L621.5,260.8 L622.5,260.5 L623.5,260.2 L624.5,259.9 L625.5,259.5 L626.5,259.2 L627.5,258.9 L628.5,258.6 L629.5,258.3 L630.5,257.9 L631.5,257.6 L632.5,257.3 L633.5,257.0 L634.5,256.7 L635.5,256.4 L636.5,256.0 L637.5,255.7 L638.5,255.4 L639.5,255.1 L640.5,254.8 L641.5,254.5 L642.5,254.2 L643.5,253.9 L644.5,253.6 L645.5,253.3 L646.5,253.1 L647.5,252.8 L648.5,252.5 L649.5,252.2 L650.5,251.9 L651.5,251.7 L652.5,251.4 L653.5,251.2 L654.5,250.9 L655.5,250.7 L656.5,250.4 L657.5,250.2 L658.5,249.9 L659.5,249.7 L660.5,249.5 L661.5,249.3 L662.5,249.1 L663.5,248.9 L664.5,248.7 L665.5,248.5 L666.5,248.3 L667.5,248.1 L668.5,247.9 L669.5,247.8 L670.5,247.6 L671.5,247.4 L672.5,247.3 L673.5,247.2 L674.5,247.0 L675.5,246.9 L676.5,246.8 L677.5,246.7 L678.5,246.6 L679.5,246.5 L680.5,246.4 L681.5,246.4 L682.5,246.3 L683.5,246.2 L684.5,246.2 L685.5,246.2 L686.5,246.1 L687.5,246.1 L688.5,246.1 L689.5,246.1 L690.5,246.1 L691.5,246.1 L692.5,246.2 L693.5,246.2 L694.5,246.3 L695.5,246.4 L696.5,246.4 L697.5,246.5 L698.5,246.6 L699.5,246.7 L700.5,246.9 L701.5,247.0 L702.5,247.1 L703.5,247.3 L704.5,247.5 L705.5,247.6 L706.5,247.8 L707.5,248.0 L708.5,248.2 L709.5,248.4 L710.5,248.6 L711.5,248.9 L712.5,249.1 L713.5,249.3 L714.5,249.5 L715.5,249.8 L716.5,250.0 L717.5,250.2 L718.5,250.5 L719.5,250.7 L720.5,251.0 L721.5,251.2 L722.5,251.4 L723.5,251.7 L724.5,251.9 L725.5,252.1 L726.5,252.4 L727.5,252.6 L728.5,252.8 L729.5,253.0 L730.5,253.2 L731.5,253.4 L732.5,253.6 L733.5,253.8 L734.5,254.0 L735.5,254.1 L736.5,254.3 L737.5,254.4 L738.5,254.6 L739.5,254.7 L740.5,254.8 L741.5,254.9 L742.5,255.0 L743.5,255.1 L744.5,255.2 L745.5,255.3 L746.5,255.3 L747.5,255.4 L748.5,255.4 L749.5,255.5 L750.5,255.5 L751.5,255.5 L752.5,255.5 L753.5,255.5 L754.5,255.5 L755.5,255.4 L756.5,255.4 L757.5,255.4 L758.5,255.3 L759.5,255.2 L760.5,255.1 L761.5,255.1 L762.5,255.0 L763.5,254.9 L764.5,254.7 L765.5,254.6 L766.5,254.5 L767.5,254.3 L768.5,254.2 L769.5,254.0 L770.5,253.8 L771.5,253.7 L772.5,253.5 L773.5,253.3 L774.5,253.1 L775.5,252.8 L776.5,252.6 L777.5,252.4 L778.5,252.1 L779.5,251.9 L780.5,251.7 L781.5,251.4 L782.5,251.2 L783.5,250.9 L784.5,250.7 L785.5,250.4 L786.5,250.2 L787.5,250.0 L788.5,249.7 L789.5,249.5 L790.5,249.3 L791.5,249.0 L792.5,248.8 L793.5,248.6 L794.5,248.4 L795.5,248.2 L796.5,248.0 L797.5,247.8 L798.5,247.7 L799.5,247.5 L800.5,247.4 L801.5,247.3 L802.5,247.1 L803.5,247.0 L804.5,247.0 L805.5,246.9 L806.5,246.8 L807.5,246.8 L808.5,246.8 L809.5,246.8 L810.5,246.8 L811.5,246.8 L812.5,246.8 L813.5,246.9 L814.5,246.9 L815.5,247.0 L816.5,247.1 L817.5,247.2 L818.5,247.3 L819.5,247.4 L820.5,247.5 L821.5,247.7 L822.5,247.8 L823.5,248.0 L824.5,248.2 L825.5,248.4 L826.5,248.6 L827.5,248.8 L828.5,249.0 L829.5,249.2 L830.5,249.5 L831.5,249.7 L832.5,250.0 L833.5,250.2 L834.5,250.5 L835.5,250.8 L836.5,251.1 L837.5,251.4 L838.5,251.7 L839.5,252.0 L840.5,252.3 L841.5,252.7 L842.5,253.0 L843.5,253.4 L844.5,253.7 L845.5,254.1 L846.5,254.4 L847.5,254.8 L848.5,255.2 L849.5,255.5 L850.5,255.9 L851.5,256.3 L852.5,256.7 L853.5,257.0 L854.5,257.4 L855.5,257.8 L856.5,258.2 L857.5,258.6 L858.5,259.0 L859.5,259.4 L860.5,259.8 L861.5,260.1 L862.5,260.5 L863.5,260.9 L864.5,261.3 L865.5,261.7 L866.5,262.1 L867.5,262.4 L868.5,262.8 L869.5,263.2 L870.5,263.5 L871.5,263.9 L872.5,264.2 L873.5,264.6 L874.5,264.9 L875.5,265.3 L876.5,265.6 L877.5,265.9 L878.5,266.2 L879.5,266.6 L880.5,266.9 L881.5,267.2 L882.5,267.4 L883.5,267.7 L884.5,268.0 L885.5,268.2 L886.5,268.5 L887.5,268.7 L888.5,268.9 L889.5,269.1 L890.5,269.3 L891.5,269.4 L892.5,269.6 L893.5,269.7 L894.5,269.8 L895.5,269.9 L896.5,269.9 L897.5,270.0 L898.5,270.0 L899.5,270.0 L900.5,269.9 L901.5,269.9 L902.5,269.8 L903.5,269.7 L904.5,269.5 L905.5,269.3 L906.5,269.1 L907.5,268.9 L908.5,268.6 L909.5,268.3 L910.5,268.0 L911.5,267.6 L912.5,267.2 L913.5,266.7 L914.5,266.2 L915.5,265.7 L916.5,265.2 L917.5,264.6 L918.5,264.0 L919.5,263.3 L920.5,262.7 L921.5,262.0 L922.5,261.4 L923.5,260.7 L924.5,260.0 L925.5,259.3 L926.5,258.6 L927.5,258.0 L928.5,257.3 L929.5,256.5 L930.5,255.8 L931.5,255.0 L932.5,254.2 L933.5,253.4 L934.5,252.4 L935.5,251.5 L936.5,250.4 L937.5,249.3 L938.5,248.1 L939.5,246.9 L940.5,245.7 L941.5,244.4 L942.5,243.1 L943.5,241.7 L944.5,240.4 L945.5,239.0 L946.5,237.7 L947.5,236.3 L948.5,234.9 L949.5,233.6 L950.5,232.2 L951.5,230.8 L952.5,229.5 L953.5,228.1 L954.5,226.8 L955.5,225.5 L956.5,224.1 L957.5,222.9 L958.5,221.6 L959.5,220.3 L960.5,219.1 L961.5,217.9 L962.5,216.7 L963.5,215.6 L964.5,214.5 L965.5,213.4 L966.5,212.4 L967.5,211.5 L968.5,210.5 L969.5,209.7 L970.5,208.9 L971.5,208.1 L972.5,207.4 L973.5,206.7 L974.5,206.1 L975.5,205.5 L976.5,205.0 L977.5,204.6 L978.5,204.2 L979.5,203.8 L980.5,203.5 L981.5,203.3 L982.5,203.1 L983.5,203.0 L984.5,202.9 L985.5,202.9 L986.5,202.9 L987.5,203.0 L988.5,203.2 L989.5,203.3 L990.5,203.6 L991.5,203.9 L992.5,204.2 L993.5,204.6 L994.5,205.1 L995.5,205.5 L996.5,206.1 L997.5,206.7 L998.5,207.3 L999.5,208.0 L1000.5,208.7 L1001.5,209.5 L1002.5,210.3 L1003.5,211.2 L1004.5,212.1 L1005.5,213.1 L1006.5,214.1 L1007.5,215.1 L1008.5,216.2 L1009.5,217.3 L1010.5,218.4 L1011.5,219.5 L1012.5,220.7 L1013.5,221.8 L1014.5,223.0 L1015.5,224.1 L1016.5,225.3 L1017.5,226.4 L1018.5,227.5 L1019.5,228.6 L1020.5,229.7 L1021.5,230.8 L1022.5,231.8 L1023.5,232.7 L1024.5,233.7 L1025.5,234.6 L1026.5,235.4 L1027.5,236.3 L1028.5,237.1 L1029.5,237.9 L1030.5,238.6 L1031.5,239.4 L1032.5,240.1 L1033.5,240.7 L1034.5,241.4 L1035.5,242.0 L1036.5,242.7 L1037.5,243.3 L1038.5,243.8 L1039.5,244.4 L1040.5,244.9 L1041.5,245.4 L1042.5,245.9 L1043.5,246.4 L1044.5,246.8 L1045.5,247.2 L1046.5,247.5 L1047.5,247.9 L1048.5,248.2 L1049.5,248.4 L1050.5,248.6 L1051.5,248.8 L1052.5,248.9 L1053.5,249.0 L1054.5,249.1 L1055.5,249.1 L1056.5,249.1 L1057.5,249.0 L1058.5,248.9 L1059.5,248.7 L1060.5,248.4 L1061.5,248.2 L1062.5,247.8 L1063.5,247.4 L1064.5,247.0 L1065.5,246.5 L1066.5,245.9 L1067.5,245.3 L1068.5,244.6 L1069.5,243.9 L1070.5,243.2 L1071.5,242.5 L1072.5,241.7 L1073.5,240.9 L1074.5,240.1 L1075.5,239.4 L1076.5,238.6 L1077.5,237.9 L1078.5,237.2 L1079.5,236.5 L1080.5,235.8 L1081.5,235.1 L1082.5,234.4 L1083.5,233.7 L1084.5,232.9 L1085.5,232.2 L1086.5,231.5 L1087.5,230.7 L1088.5,230.0 L1089.5,229.3 L1090.5,228.6 L1091.5,227.9 L1092.5,227.2 L1093.5,226.6 L1094.5,226.0 L1095.5,225.5 L1096.5,225.0 L1097.5,224.6 L1098.5,224.2 L1099.5,223.9 L1100.5,223.6 L1101.5,223.5" stroke="#4a87d8"/>
<path d="M91.5,244.1 L92.5,243.8 L93.5,243.6 L94.5,243.5 L95.5,243.3 L96.5,243.2 L97.5,243.2 L98.5,243.1 L99.5,243.1 L100.5,243.2 L101.5,243.2 L102.5,243.3 L103.5,243.4 L104.5,243.6 L105.5,243.7 L106.5,243.9 L107.5,244.1 L108.5,244.3 L109.5,244.6 L110.5,244.8 L111.5,245.1 L112.5,245.4 L113.5,245.7 L114.5,246.0 L115.5,246.3 L116.5,246.7 L117.5,247.0 L118.5,247.4 L119.5,247.8 L120.5,248.1 L121.5,248.5 L122.5,248.9 L123.5,249.3 L124.5,249.7 L125.5,250.1 L126.5,250.4 L127.5,250.8 L128.5,251.2 L129.5,251.6 L130.5,252.0 L131.5,252.3 L132.5,252.7 L133.5,253.1 L134.5,253.5 L135.5,253.8 L136.5,254.2 L137.5,254.6 L138.5,254.9 L139.5,255.3 L140.5,255.7 L141.5,256.0 L142.5,256.4 L143.5,256.7 L144.5,257.1 L145.5,257.4 L146.5,257.8 L147.5,258.1 L148.5,258.4 L149.5,258.8 L150.5,259.1 L151.5,259.4 L152.5,259.8 L153.5,260.1 L154.5,260.4 L155.5,260.7 L156.5,261.0 L157.5,261.3 L158.5,261.6 L159.5,261.9 L160.5,262.2 L161.5,262.5 L162.5,262.7 L163.5,263.0 L164.5,263.3 L165.5,263.5 L166.5,263.8 L167.5,264.0 L168.5,264.3 L169.5,264.5 L170.5,264.7 L171.5,265.0 L172.5,265.2 L173.5,265.4 L174.5,265.6 L175.5,265.8 L176.5,266.0 L177.5,266.2 L178.5,266.4 L179.5,266.5 L180.5,266.7 L181.5,266.9 L182.5,267.0 L183.5,267.2 L184.5,267.3 L185.5,267.4 L186.5,267.5 L187.5,267.7 L188.5,267.8 L189.5,267.9 L190.5,267.9 L191.5,268.0 L192.5,268.1 L193.5,268.2 L194.5,268.2 L195.5,268.3 L196.5,268.3 L197.5,268.4 L198.5,268.4 L199.5,268.4 L200.5,268.5 L201.5,268.5 L202.5,268.5 L203.5,268.5 L204.5,268.5 L205.5,268.5 L206.5,268.4 L207.5,268.4 L208.5,268.4 L209.5,268.3 L210.5,268.3 L211.5,268.2 L212.5,268.2 L213.5,268.1 L214.5,268.0 L215.5,268.0 L216.5,267.9 L217.5,267.8 L218.5,267.7 L219.5,267.6 L220.5,267.5 L221.5,267.4 L222.5,267.3 L223.5,267.1 L224.5,267.0 L225.5,266.9 L226.5,266.7 L227.5,266.6 L228.5,266.5 L229.5,266.3 L230.5,266.1 L231.5,266.0 L232.5,265.8 L233.5,265.6 L234.5,265.4 L235.5,265.3 L236.5,265.1 L237.5,264.9 L238.5,264.7 L239.5,264.5 L240.5,264.3 L241.5,264.0 L242.5,263.8 L243.5,263.6 L244.5,263.4 L245.5,263.1 L246.5,262.9 L247.5,262.7 L248.5,262.4 L249.5,262.2 L250.5,261.9 L251.5,261.7 L252.5,261.4 L253.5,261.1 L254.5,260.9 L255.5,260.6 L256.5,260.3 L257.5,260.0 L258.5,259.8 L259.5,259.5 L260.5,259.2 L261.5,258.9 L262.5,258.6 L263.5,258.3 L264.5,258.0 L265.5,257.8 L266.5,257.5 L267.5,257.2 L268.5,256.9 L269.5,256.6 L270.5,256.4 L271.5,256.1 L272.5,255.8 L273.5,255.6 L274.5,255.3 L275.5,255.0 L276.5,254.8 L277.5,254.6 L278.5,254.3 L279.5,254.1 L280.5,253.9 L281.5,253.7 L282.5,253.5 L283.5,253.3 L284.5,253.1 L285.5,253.0 L286.5,252.8 L287.5,252.7 L288.5,252.5 L289.5,252.4 L290.5,252.3 L291.5,252.2 L292.5,252.1 L293.5,252.1 L294.5,252.0 L295.5,252.0 L296.5,252.0 L297.5,252.0 L298.5,252.0 L299.5,252.1 L300.5,252.1 L301.5,252.2 L302.5,252.3 L303.5,252.4 L304.5,252.6 L305.5,252.7 L306.5,252.9 L307.5,253.1 L308.5,253.4 L309.5,253.6 L310.5,253.9 L311.5,254.2 L312.5,254.6 L313.5,254.9 L314.5,255.3 L315.5,255.8 L316.5,256.2 L317.5,256.7 L318.5,257.2 L319.5,257.7 L320.5,258.2 L321.5,258.7 L322.5,259.2 L323.5,259.8 L324.5,260.3 L325.5,260.8 L326.5,261.3 L327.5,261.9 L328.5,262.4 L329.5,262.9 L330.5,263.4 L331.5,263.9 L332.5,264.4 L333.5,264.9 L334.5,265.4 L335.5,265.9 L336.5,266.3 L337.5,266.8 L338.5,267.2 L339.5,267.7 L340.5,268.1 L341.5,268.5 L342.5,268.9 L343.5,269.3 L344.5,269.6 L345.5,270.0 L346.5,270.3 L347.5,270.6 L348.5,270.9 L349.5,271.2 L350.5,271.5 L351.5,271.7 L352.5,272.0 L353.5,272.2 L354.5,272.4 L355.5,272.5 L356.5,272.7 L357.5,272.8 L358.5,272.9 L359.5,273.0 L360.5,273.1 L361.5,273.1 L362.5,273.1 L363.5,273.1 L364.5,273.1 L365.5,273.1 L366.5,273.0 L367.5,272.9 L368.5,272.8 L369.5,272.7 L370.5,272.5 L371.5,272.3 L372.5,272.1 L373.5,271.9 L374.5,271.6 L375.5,271.3 L376.5,271.0 L377.5,270.7 L378.5,270.4 L379.5,270.0 L380.5,269.7 L381.5,269.3 L382.5,268.9 L383.5,268.5 L384.5,268.1 L385.5,267.7 L386.5,267.3 L387.5,266.9 L388.5,266.5 L389.5,266.1 L390.5,265.7 L391.5,265.3 L392.5,264.9 L393.5,264.6 L394.5,264.2 L395.5,263.9 L396.5,263.5 L397.5,263.2 L398.5,262.9 L399.5,262.6 L400.5,262.3 L401.5,262.0 L402.5,261.7 L403.5,261.4 L404.5,261.1 L405.5,260.9 L406.5,260.6 L407.5,260.4 L408.5,260.1 L409.5,259.9 L410.5,259.7 L411.5,259.5 L412.5,259.3 L413.5,259.1 L414.5,258.9 L415.5,258.8 L416.5,258.6 L417.5,258.5 L418.5,258.4 L419.5,258.2 L420.5,258.1 L421.5,258.0 L422.5,258.0 L423.5,257.9 L424.5,257.8 L425.5,257.8 L426.5,257.7 L427.5,257.7 L428.5,257.7 L429.5,257.7 L430.5,257.7 L431.5,257.7 L432.5,257.7 L433.5,257.8 L434.5,257.8 L435.5,257.9 L436.5,258.0 L437.5,258.0 L438.5,258.1 L439.5,258.2 L440.5,258.3 L441.5,258.4 L442.5,258.5 L443.5,258.5 L444.5,258.6 L445.5,258.7 L446.5,258.8 L447.5,258.9 L448.5,259.0 L449.5,259.1 L450.5,259.2 L451.5,259.3 L452.5,259.4 L453.5,259.5 L454.5,259.5 L455.5,259.6 L456.5,259.6 L457.5,259.7 L458.5,259.7 L459.5,259.8 L460.5,259.8 L461.5,259.8 L462.5,259.8 L463.5,259.8 L464.5,259.8 L465.5,259.7 L466.5,259.7 L467.5,259.6 L468.5,259.5 L469.5,259.5 L470.5,259.4 L471.5,259.3 L472.5,259.2 L473.5,259.0 L474.5,258.9 L475.5,258.8 L476.5,258.7 L477.5,258.5 L478.5,258.4 L479.5,258.2 L480.5,258.1 L481.5,257.9 L482.5,257.8 L483.5,257.6 L484.5,257.5 L485.5,257.3 L486.5,257.2 L487.5,257.1 L488.5,256.9 L489.5,256.8 L490.5,256.7 L491.5,256.5 L492.5,256.4 L493.5,256.3 L494.5,256.2 L495.5,256.1 L496.5,256.0 L497.5,255.9 L498.5,255.8 L499.5,255.7 L500.5,255.6 L501.5,255.5 L502.5,255.5 L503.5,255.4 L504.5,255.4 L505.5,255.3 L506.5,255.3 L507.5,255.3 L508.5,255.3 L509.5,255.2 L510.5,255.2 L511.5,255.2 L512.5,255.3 L513.5,255.3 L514.5,255.3 L515.5,255.4 L516.5,255.4 L517.5,255.5 L518.5,255.5 L519.5,255.6 L520.5,255.7 L521.5,255.8 L522.5,255.9 L523.5,256.0 L524.5,256.2 L525.5,256.3 L526.5,256.5 L527.5,256.6 L528.5,256.8 L529.5,257.0 L530.5,257.2 L531.5,257.4 L532.5,257.6 L533.5,257.8 L534.5,258.0 L535.5,258.2 L536.5,258.4 L537.5,258.6 L538.5,258.8 L539.5,259.0 L540.5,259.2 L541.5,259.4 L542.5,259.6 L543.5,259.8 L544.5,260.0 L545.5,260.1 L546.5,260.3 L547.5,260.4 L548.5,260.6 L549.5,260.7 L550.5,260.8 L551.5,261.0 L552.5,261.0 L553.5,261.1 L554.5,261.2 L555.5,261.2 L556.5,261.2 L557.5,261.3 L558.5,261.2 L559.5,261.2 L560.5,261.2 L561.5,261.1 L562.5,261.0 L563.5,260.9 L564.5,260.8 L565.5,260.7 L566.5,260.6 L567.5,260.4 L568.5,260.2 L569.5,260.0 L570.5,259.8 L571.5,259.6 L572.5,259.4 L573.5,259.1 L574.5,258.8 L575.5,258.6 L576.5,258.3 L577.5,257.9 L578.5,257.6 L579.5,257.3 L580.5,256.9 L581.5,256.5 L582.5,256.1 L583.5,255.7 L584.5,255.3 L585.5,254.9 L586.5,254.4 L587.5,254.0 L588.5,253.5 L589.5,253.0 L590.5,252.5 L591.5,252.0 L592.5,251.5 L593.5,251.0 L594.5,250.5 L595.5,249.9 L596.5,249.4 L597.5,248.8 L598.5,248.3 L599.5,247.8 L600.5,247.2 L601.5,246.7 L602.5,246.1 L603.5,245.6 L604.5,245.0 L605.5,244.5 L606.5,244.0 L607.5,243.5 L608.5,242.9 L609.5,242.4 L610.5,241.9 L611.5,241.4 L612.5,241.0 L613.5,240.5 L614.5,240.0 L615.5,239.6 L616.5,239.2 L617.5,238.8 L618.5,238.4 L619.5,238.0 L620.5,237.6 L621.5,237.3 L622.5,236.9 L623.5,236.6 L624.5,236.4 L625.5,236.1 L626.5,235.8 L627.5,235.6 L628.5,235.4 L629.5,235.2 L630.5,235.0 L631.5,234.8 L632.5,234.7 L633.5,234.5 L634.5,234.4 L635.5,234.3 L636.5,234.2 L637.5,234.1 L638.5,234.0 L639.5,233.9 L640.5,233.9 L641.5,233.8 L642.5,233.8 L643.5,233.8 L644.5,233.8 L645.5,233.8 L646.5,233.8 L647.5,233.8 L648.5,233.8 L649.5,233.8 L650.5,233.8 L651.5,233.9 L652.5,233.9 L653.5,233.9 L654.5,234.0 L655.5,234.0 L656.5,234.1 L657.5,234.2 L658.5,234.2 L659.5,234.3 L660.5,234.4 L661.5,234.4 L662.5,234.5 L663.5,234.6 L664.5,234.6 L665.5,234.7 L666.5,234.8 L667.5,234.9 L668.5,234.9 L669.5,235.0 L670.5,235.1 L671.5,235.1 L672.5,235.2 L673.5,235.3 L674.5,235.3 L675.5,235.4 L676.5,235.4 L677.5,235.5 L678.5,235.5 L679.5,235.6 L680.5,235.6 L681.5,235.7 L682.5,235.7 L683.5,235.7 L684.5,235.7 L685.5,235.7 L686.5,235.7 L687.5,235.7 L688.5,235.7 L689.5,235.7 L690.5,235.6 L691.5,235.6 L692.5,235.5 L693.5,235.5 L694.5,235.4 L695.5,235.3 L696.5,235.2 L697.5,235.1 L698.5,235.0 L699.5,234.9 L700.5,234.7 L701.5,234.6 L702.5,234.5 L703.5,234.3 L704.5,234.2 L705.5,234.0 L706.5,233.9 L707.5,233.7 L708.5,233.6 L709.5,233.4 L710.5,233.3 L711.5,233.1 L712.5,233.0 L713.5,232.9 L714.5,232.8 L715.5,232.7 L716.5,232.6 L717.5,232.5 L718.5,232.4 L719.5,232.4 L720.5,232.4 L721.5,232.3 L722.5,232.3 L723.5,232.3 L724.5,232.4 L725.5,232.4 L726.5,232.5 L727.5,232.6 L728.5,232.6 L729.5,232.7 L730.5,232.9 L731.5,233.0 L732.5,233.1 L733.5,233.3 L734.5,233.5 L735.5,233.6 L736.5,233.8 L737.5,234.0 L738.5,234.2 L739.5,234.4 L740.5,234.7 L741.5,234.9 L742.5,235.1 L743.5,235.4 L744.5,235.6 L745.5,235.9 L746.5,236.2 L747.5,236.4 L748.5,236.7 L749.5,237.0 L750.5,237.3 L751.5,237.6 L752.5,237.8 L753.5,238.1 L754.5,238.4 L755.5,238.7 L756.5,239.0 L757.5,239.3 L758.5,239.6 L759.5,239.9 L760.5,240.2 L761.5,240.5 L762.5,240.8 L763.5,241.1 L764.5,241.4 L765.5,241.7 L766.5,242.0 L767.5,242.2 L768.5,242.5 L769.5,242.8 L770.5,243.0 L771.5,243.3 L772.5,243.5 L773.5,243.8 L774.5,244.0 L775.5,244.3 L776.5,244.5 L777.5,244.7 L778.5,244.9 L779.5,245.1 L780.5,245.3 L781.5,245.4 L782.5,245.6 L783.5,245.7 L784.5,245.9 L785.5,246.0 L786.5,246.1 L787.5,246.2 L788.5,246.3 L789.5,246.4 L790.5,246.5 L791.5,246.5 L792.5,246.6 L793.5,246.6 L794.5,246.7 L795.5,246.7 L796.5,246.7 L797.5,246.7 L798.5,246.7 L799.5,246.7 L800.5,246.7 L801.5,246.7 L802.5,246.7 L803.5,246.6 L804.5,246.6 L805.5,246.6 L806.5,246.5 L807.5,246.5 L808.5,246.4 L809.5,246.4 L810.5,246.3 L811.5,246.2 L812.5,246.1 L813.5,246.1 L814.5,246.0 L815.5,245.9 L816.5,245.8 L817.5,245.7 L818.5,245.6 L819.5,245.5 L820.5,245.4 L821.5,245.3 L822.5,245.2 L823.5,245.1 L824.5,245.0 L825.5,244.9 L826.5,244.8 L827.5,244.7 L828.5,244.5 L829.5,244.4 L830.5,244.3 L831.5,244.2 L832.5,244.1 L833.5,244.0 L834.5,243.9 L835.5,243.8 L836.5,243.7 L837.5,243.6 L838.5,243.5 L839.5,243.4 L840.5,243.3 L841.5,243.2 L842.5,243.1 L843.5,243.0 L844.5,243.0 L845.5,242.9 L846.5,242.8 L847.5,242.7 L848.5,242.7 L849.5,242.6 L850.5,242.6 L851.5,242.5 L852.5,242.5 L853.5,242.4 L854.5,242.4 L855.5,242.4 L856.5,242.3 L857.5,242.3 L858.5,242.3 L859.5,242.3 L860.5,242.3 L861.5,242.3 L862.5,242.3 L863.5,242.3 L864.5,242.4 L865.5,242.4 L866.5,242.4 L867.5,242.5 L868.5,242.5 L869.5,242.6 L870.5,242.7 L871.5,242.7 L872.5,242.8 L873.5,242.9 L874.5,243.0 L875.5,243.1 L876.5,243.2 L877.5,243.3 L878.5,243.4 L879.5,243.5 L880.5,243.7 L881.5,243.8 L882.5,243.9 L883.5,244.0 L884.5,244.2 L885.5,244.3 L886.5,244.4 L887.5,244.6 L888.5,244.7 L889.5,244.8 L890.5,245.0 L891.5,245.1 L892.5,245.2 L893.5,245.3 L894.5,245.5 L895.5,245.6 L896.5,245.7 L897.5,245.8 L898.5,245.9 L899.5,246.0 L900.5,246.1 L901.5,246.2 L902.5,246.3 L903.5,246.4 L904.5,246.4 L905.5,246.5 L906.5,246.6 L907.5,246.6 L908.5,246.6 L909.5,246.7 L910.5,246.7 L911.5,246.7 L912.5,246.7 L913.5,246.7 L914.5,246.7 L915.5,246.6 L916.5,246.6 L917.5,246.5 L918.5,246.5 L919.5,246.4 L920.5,246.3 L921.5,246.2 L922.5,246.1 L923.5,245.9 L924.5,245.8 L925.5,245.6 L926.5,245.5 L927.5,245.3 L928.5,245.1 L929.5,244.9 L930.5,244.6 L931.5,244.4 L932.5,244.1 L933.5,243.8 L934.5,243.5 L935.5,243.2 L936.5,242.9 L937.5,242.6 L938.5,242.2 L939.5,241.8 L940.5,241.4 L941.5,241.0 L942.5,240.5 L943.5,240.1 L944.5,239.6 L945.5,239.1 L946.5,238.6 L947.5,238.1 L948.5,237.5 L949.5,237.0 L950.5,236.4 L951.5,235.8 L952.5,235.2 L953.5,234.6 L954.5,234.0 L955.5,233.4 L956.5,232.8 L957.5,232.2 L958.5,231.5 L959.5,230.9 L960.5,230.3 L961.5,229.7 L962.5,229.1 L963.5,228.5 L964.5,227.9 L965.5,227.3 L966.5,226.8 L967.5,226.2 L968.5,225.7 L969.5,225.2 L970.5,224.7 L971.5,224.2 L972.5,223.7 L973.5,223.3 L974.5,222.8 L975.5,222.4 L976.5,222.0 L977.5,221.7 L978.5,221.3 L979.5,221.0 L980.5,220.7 L981.5,220.4 L982.5,220.1 L983.5,219.9 L984.5,219.6 L985.5,219.4 L986.5,219.3 L987.5,219.1 L988.5,219.0 L989.5,218.8 L990.5,218.7 L991.5,218.7 L992.5,218.6 L993.5,218.6 L994.5,218.6 L995.5,218.6 L996.5,218.7 L997.5,218.7 L998.5,218.8 L999.5,218.9 L1000.5,219.1 L1001.5,219.3 L1002.5,219.4 L1003.5,219.7 L1004.5,219.9 L1005.5,220.2 L1006.5,220.5 L1007.5,220.8 L1008.5,221.2 L1009.5,221.5 L1010.5,221.9 L1011.5,222.4 L1012.5,222.8 L1013.5,223.3 L1014.5,223.8 L1015.5,224.4 L1016.5,224.9 L1017.5,225.5 L1018.5,226.1 L1019.5,226.7 L1020.5,227.3 L1021.5,227.9 L1022.5,228.6 L1023.5,229.2 L1024.5,229.9 L1025.5,230.6 L1026.5,231.3 L1027.5,232.0 L1028.5,232.7 L1029.5,233.4 L1030.5,234.1 L1031.5,234.8 L1032.5,235.5 L1033.5,236.2 L1034.5,236.9 L1035.5,237.6 L1036.5,238.3 L1037.5,238.9 L1038.5,239.6 L1039.5,240.3 L1040.5,240.9 L1041.5,241.6 L1042.5,242.2 L1043.5,242.8 L1044.5,243.4 L1045.5,244.0 L1046.5,244.6 L1047.5,245.1 L1048.5,245.6 L1049.5,246.1 L1050.5,246.6 L1051.5,247.1 L1052.5,247.5 L1053.5,247.9 L1054.5,248.2 L1055.5,248.6 L1056.5,248.9 L1057.5,249.1 L1058.5,249.4 L1059.5,249.6 L1060.5,249.8 L1061.5,249.9 L1062.5,250.0 L1063.5,250.1 L1064.5,250.1 L1065.5,250.2 L1066.5,250.2 L1067.5,250.2 L1068.5,250.1 L1069.5,250.1 L1070.5,250.0 L1071.5,249.9 L1072.5,249.8 L1073.5,249.6 L1074.5,249.5 L1075.5,249.3 L1076.5,249.2 L1077.5,249.0 L1078.5,248.8 L1079.5,248.6 L1080.5,248.4 L1081.5,248.2 L1082.5,248.0 L1083.5,247.7 L1084.5,247.5 L1085.5,247.3 L1086.5,247.1 L1087.5,246.8 L1088.5,246.6 L1089.5,246.4 L1090.5,246.2 L1091.5,246.0 L1092.5,245.8 L1093.5,245.6 L1094.5,245.4 L1095.5,245.2 L1096.5,245.1 L1097.5,244.9 L1098.5,244.8 L1099.5,244.7 L1100.5,244.6 L1101.5,244.5" stroke="#dc566a"/>
</g>
<circle cx="91.5" cy="249.5" r="4" fill="#bb2340"/><circle cx="1102" cy="251.8" r="4" fill="#bb2340"/><circle cx="91.5" cy="225.5" r="4" fill="#2b917e"/><circle cx="1102" cy="223.0" r="4" fill="#2b917e"/><circle cx="91.5" cy="254.2" r="4" fill="#a94cdc"/><circle cx="1102" cy="258.4" r="4" fill="#a94cdc"/><circle cx="91.5" cy="208.1" r="4" fill="#d8914d"/><circle cx="1102" cy="211.1" r="4" fill="#d8914d"/><circle cx="91.5" cy="223.1" r="4" fill="#4a87d8"/><circle cx="1102" cy="223.5" r="4" fill="#4a87d8"/><circle cx="91.5" cy="244.1" r="4" fill="#dc566a"/><circle cx="1102" cy="244.5" r="4" fill="#dc566a"/>
<!-- legend -->
<circle cx="54" cy="428" r="6" fill="#c2243f"/>
<circle cx="182" cy="428" r="6" fill="#2d9a86"/>
<circle cx="426" cy="428" r="6" fill="#b14fe6"/>
<circle cx="598" cy="428" r="6" fill="#d8924f"/>
<circle cx="673" cy="428" r="6" fill="#4a88dc"/>
<circle cx="870" cy="428" r="6" fill="#e05468"/>
<circle cx="978" cy="428" r="6" fill="#b8b8b8"/>
<g font-size="12.8" fill="#333" stroke="#333" stroke-width="0.15">
<text x="64" y="431" textLength="97" lengthAdjust="spacing">Marketplace C2C</text>
<text x="192" y="431" textLength="212.5" lengthAdjust="spacing">Sneakers, Streetwear &amp; Sports Apparel</text>
<text x="436" y="431" textLength="140.5" lengthAdjust="spacing">Furniture &amp; Home Design</text>
<text x="607.5" y="431" textLength="43.5" lengthAdjust="spacing">Fashion</text>
<text x="682.8" y="431" textLength="166" lengthAdjust="spacing">Other Commerce &amp; Shopping</text>
<text x="879.6" y="431" textLength="77.3" lengthAdjust="spacing">Retailer (B2C)</text>
<text x="987.5" y="431" textLength="97" lengthAdjust="spacing">Wholesaler (B2B)</text>
</g>
</svg>
</body></html>
